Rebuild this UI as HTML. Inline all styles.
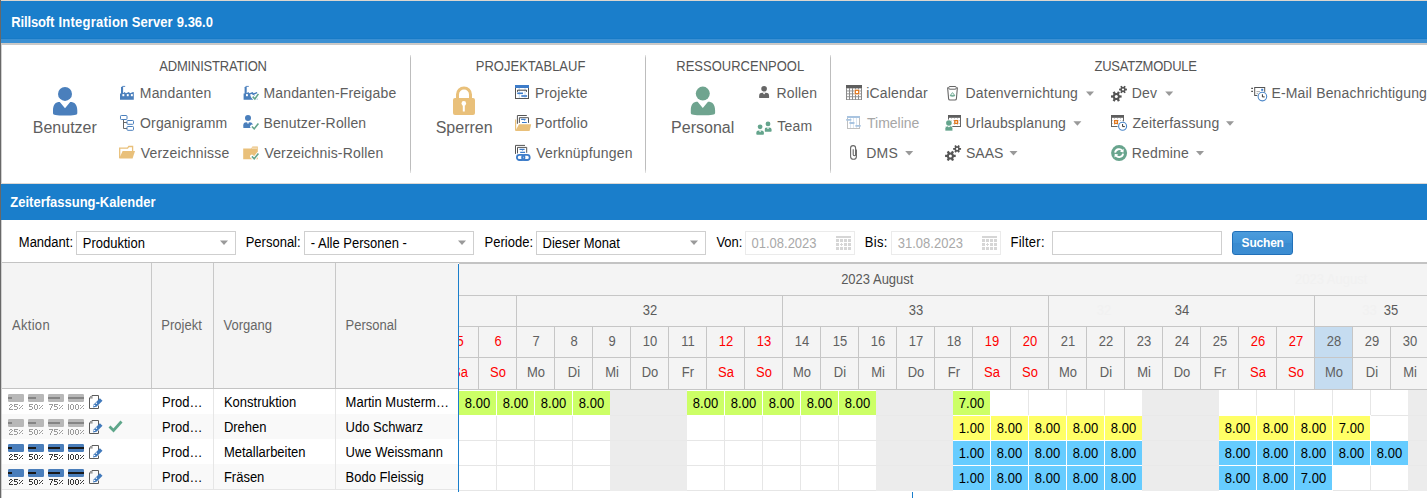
<!DOCTYPE html>
<html><head><meta charset="utf-8"><title>Zeiterfassung-Kalender</title>
<style>
html,body{margin:0;padding:0;}
body{width:1427px;height:498px;overflow:hidden;position:relative;background:#fff;font-family:"Liberation Sans", sans-serif;}
.t{position:absolute;white-space:nowrap;font-family:"Liberation Sans", sans-serif;}
.r{position:absolute;}
svg{position:absolute;left:0;top:0;}
</style></head><body>
<div class="r" style="left:0px;top:0px;width:1427px;height:1px;background:#dcd6cf;"></div>
<div class="r" style="left:0px;top:1px;width:1427px;height:38px;background:#1a7ecb;"></div>
<div class="r" style="left:0px;top:38px;width:1427px;height:1px;background:#177ac6;"></div>
<div class="r" style="left:0px;top:39px;width:1427px;height:4px;background:#3b90d3;"></div>
<div class="r" style="left:0px;top:43px;width:1427px;height:1px;background:#cdc9c5;"></div>
<div class="r" style="left:0px;top:44px;width:1427px;height:1px;background:#c9c9c9;"></div>
<div class="t" style="left:11.30px;top:15.80px;font-size:13px;line-height:13px;color:#ffffff;font-weight:bold;letter-spacing:-0.15px;transform:scaleY(1.06);transform-origin:0 11.00px;">Rillsoft</div>
<div class="t" style="left:58.40px;top:15.80px;font-size:13px;line-height:13px;color:#ffffff;font-weight:bold;letter-spacing:0.25px;transform:scaleY(1.06);transform-origin:0 11.00px;">Integration</div>
<div class="t" style="left:131.80px;top:15.80px;font-size:13px;line-height:13px;color:#ffffff;font-weight:bold;letter-spacing:0.05px;transform:scaleY(1.06);transform-origin:0 11.00px;">Server</div>
<div class="t" style="left:176.80px;top:15.80px;font-size:13px;line-height:13px;color:#ffffff;font-weight:bold;letter-spacing:0px;transform:scaleY(1.06);transform-origin:0 11.00px;">9.36.0</div>
<div class="r" style="left:410px;top:55px;width:1px;height:118px;background:linear-gradient(#e6e6e6, #bdbdbd 3px, #bdbdbd 114px, #e6e6e6);"></div>
<div class="r" style="left:645px;top:55px;width:1px;height:118px;background:linear-gradient(#e6e6e6, #bdbdbd 3px, #bdbdbd 114px, #e6e6e6);"></div>
<div class="r" style="left:830px;top:55px;width:1px;height:118px;background:linear-gradient(#e6e6e6, #bdbdbd 3px, #bdbdbd 114px, #e6e6e6);"></div>
<div class="t" style="left:159.30px;top:59.70px;font-size:13px;line-height:13px;color:#555555;font-weight:normal;letter-spacing:-0.2px;transform:scaleY(1.06);transform-origin:0 11.00px;">ADMINISTRATION</div>
<div class="t" style="left:475.80px;top:59.70px;font-size:13px;line-height:13px;color:#555555;font-weight:normal;;transform:scaleY(1.06);transform-origin:0 11.00px;">PROJEKTABLAUF</div>
<div class="t" style="left:676.30px;top:59.70px;font-size:13px;line-height:13px;color:#555555;font-weight:normal;;transform:scaleY(1.06);transform-origin:0 11.00px;">RESSOURCENPOOL</div>
<div class="t" style="left:1094.50px;top:60.00px;font-size:13px;line-height:13px;color:#555555;font-weight:normal;letter-spacing:-0.25px;transform:scaleY(1.06);transform-origin:0 11.00px;">ZUSATZMODULE</div>
<div class="t" style="left:32.80px;top:119.86px;font-size:16px;line-height:16px;color:#5e5e5e;font-weight:normal;">Benutzer</div>
<div class="t" style="left:139.80px;top:86.45px;font-size:14px;line-height:14px;color:#5e5e5e;font-weight:normal;letter-spacing:0.17px;">Mandanten</div>
<div class="t" style="left:140.00px;top:116.15px;font-size:14px;line-height:14px;color:#5e5e5e;font-weight:normal;letter-spacing:0.17px;">Organigramm</div>
<div class="t" style="left:140.80px;top:145.95px;font-size:14px;line-height:14px;color:#5e5e5e;font-weight:normal;letter-spacing:0.17px;">Verzeichnisse</div>
<div class="t" style="left:263.40px;top:86.45px;font-size:14px;line-height:14px;color:#5e5e5e;font-weight:normal;letter-spacing:0.17px;">Mandanten-Freigabe</div>
<div class="t" style="left:263.40px;top:116.15px;font-size:14px;line-height:14px;color:#5e5e5e;font-weight:normal;letter-spacing:0.17px;">Benutzer-Rollen</div>
<div class="t" style="left:264.40px;top:145.95px;font-size:14px;line-height:14px;color:#5e5e5e;font-weight:normal;letter-spacing:0.17px;">Verzeichnis-Rollen</div>
<div class="t" style="left:435.70px;top:119.86px;font-size:16px;line-height:16px;color:#5e5e5e;font-weight:normal;">Sperren</div>
<div class="t" style="left:535.00px;top:86.45px;font-size:14px;line-height:14px;color:#5e5e5e;font-weight:normal;letter-spacing:0.17px;">Projekte</div>
<div class="t" style="left:535.00px;top:116.15px;font-size:14px;line-height:14px;color:#5e5e5e;font-weight:normal;letter-spacing:0.17px;">Portfolio</div>
<div class="t" style="left:536.20px;top:145.95px;font-size:14px;line-height:14px;color:#5e5e5e;font-weight:normal;letter-spacing:0.17px;">Verknüpfungen</div>
<div class="t" style="left:671.10px;top:119.86px;font-size:16px;line-height:16px;color:#5e5e5e;font-weight:normal;">Personal</div>
<div class="t" style="left:776.50px;top:86.45px;font-size:14px;line-height:14px;color:#5e5e5e;font-weight:normal;letter-spacing:0.17px;">Rollen</div>
<div class="t" style="left:777.30px;top:118.95px;font-size:14px;line-height:14px;color:#5e5e5e;font-weight:normal;letter-spacing:0.17px;">Team</div>
<div class="t" style="left:866.30px;top:86.45px;font-size:14px;line-height:14px;color:#5e5e5e;font-weight:normal;letter-spacing:0.17px;">iCalendar</div>
<div class="t" style="left:867.00px;top:116.15px;font-size:14px;line-height:14px;color:#a6a6a6;font-weight:normal;letter-spacing:0">Timeline</div>
<div class="t" style="left:866.30px;top:145.95px;font-size:14px;line-height:14px;color:#5e5e5e;font-weight:normal;letter-spacing:0.17px;">DMS</div>
<div class="t" style="left:965.60px;top:86.45px;font-size:14px;line-height:14px;color:#5e5e5e;font-weight:normal;letter-spacing:0.17px;">Datenvernichtung</div>
<div class="t" style="left:965.60px;top:116.15px;font-size:14px;line-height:14px;color:#5e5e5e;font-weight:normal;letter-spacing:0.17px;">Urlaubsplanung</div>
<div class="t" style="left:966.00px;top:145.95px;font-size:14px;line-height:14px;color:#5e5e5e;font-weight:normal;letter-spacing:0">SAAS</div>
<div class="t" style="left:1131.70px;top:86.45px;font-size:14px;line-height:14px;color:#5e5e5e;font-weight:normal;letter-spacing:0.17px;">Dev</div>
<div class="t" style="left:1132.40px;top:116.15px;font-size:14px;line-height:14px;color:#5e5e5e;font-weight:normal;letter-spacing:0.17px;">Zeiterfassung</div>
<div class="t" style="left:1131.70px;top:145.95px;font-size:14px;line-height:14px;color:#5e5e5e;font-weight:normal;letter-spacing:0.17px;">Redmine</div>
<div class="t" style="left:1271.40px;top:86.45px;font-size:14px;line-height:14px;color:#5e5e5e;font-weight:normal;letter-spacing:0.17px;">E-Mail Benachrichtigung</div>
<div class="r" style="left:0px;top:183px;width:1427px;height:1px;background:#dcd8d4;"></div>
<div class="r" style="left:0px;top:184px;width:1427px;height:36px;background:#1a7ecb;"></div>
<div class="t" style="left:10.30px;top:195.70px;font-size:13px;line-height:13px;color:#ffffff;font-weight:bold;;transform:scaleY(1.06);transform-origin:0 11.00px;">Zeiterfassung-Kalender</div>
<div class="t" style="left:18.80px;top:236.00px;font-size:13px;line-height:13px;color:#000000;font-weight:normal;;transform:scaleY(1.06);transform-origin:0 11.00px;">Mandant:</div>
<div class="t" style="left:245.70px;top:236.00px;font-size:13px;line-height:13px;color:#000000;font-weight:normal;;transform:scaleY(1.06);transform-origin:0 11.00px;">Personal:</div>
<div class="t" style="left:484.60px;top:236.00px;font-size:13px;line-height:13px;color:#000000;font-weight:normal;;transform:scaleY(1.06);transform-origin:0 11.00px;">Periode:</div>
<div class="t" style="left:716.40px;top:236.00px;font-size:13px;line-height:13px;color:#000000;font-weight:normal;;transform:scaleY(1.06);transform-origin:0 11.00px;">Von:</div>
<div class="t" style="left:864.80px;top:236.00px;font-size:13px;line-height:13px;color:#000000;font-weight:normal;letter-spacing:0.3px;transform:scaleY(1.06);transform-origin:0 11.00px;">Bis:</div>
<div class="t" style="left:1010.50px;top:236.00px;font-size:13px;line-height:13px;color:#000000;font-weight:normal;letter-spacing:0.25px;transform:scaleY(1.06);transform-origin:0 11.00px;">Filter:</div>
<div class="r" style="left:76px;top:231px;width:158px;height:22px;border:1px solid #cfcfcf;background:#fff"></div>
<div class="r" style="left:304px;top:231px;width:168px;height:22px;border:1px solid #cfcfcf;background:#fff"></div>
<div class="r" style="left:536px;top:231px;width:168px;height:22px;border:1px solid #cfcfcf;background:#fff"></div>
<div class="r" style="left:745px;top:231px;width:108px;height:22px;border:1px solid #ebebeb;background:#fff"></div>
<div class="r" style="left:891px;top:231px;width:108px;height:22px;border:1px solid #ebebeb;background:#fff"></div>
<div class="r" style="left:1052px;top:231px;width:168px;height:22px;border:1px solid #cfcfcf;background:#fff"></div>
<div class="t" style="left:82.80px;top:237.10px;font-size:13px;line-height:13px;color:#000;font-weight:normal;;transform:scaleY(1.06);transform-origin:0 11.00px;">Produktion</div>
<div class="t" style="left:310.80px;top:237.10px;font-size:13px;line-height:13px;color:#000;font-weight:normal;;transform:scaleY(1.06);transform-origin:0 11.00px;">- Alle Personen -</div>
<div class="t" style="left:542.60px;top:237.10px;font-size:13px;line-height:13px;color:#000;font-weight:normal;;transform:scaleY(1.06);transform-origin:0 11.00px;">Dieser Monat</div>
<div class="t" style="left:751.50px;top:237.10px;font-size:13px;line-height:13px;color:#a9a9a9;font-weight:normal;;transform:scaleY(1.06);transform-origin:0 11.00px;">01.08.2023</div>
<div class="t" style="left:897.80px;top:237.10px;font-size:13px;line-height:13px;color:#a9a9a9;font-weight:normal;;transform:scaleY(1.06);transform-origin:0 11.00px;">31.08.2023</div>
<div class="r" style="left:1232px;top:231px;width:59px;height:22px;border:1px solid #2170b8;border-radius:3px;background:linear-gradient(#4c9cdc,#3f92d6 50%,#3a8bd0 52%,#3c8dd2)"></div>
<div class="t" style="left:1241.60px;top:236.64px;font-size:12px;line-height:12px;color:#ffffff;font-weight:bold;letter-spacing:-0.2px">Suchen</div>
<div class="r" style="left:1px;top:262px;width:1426px;height:1px;background:#c3c3c3;"></div>
<div class="r" style="left:1px;top:263px;width:457px;height:125px;background:#f4f4f4;"></div>
<div class="r" style="left:1px;top:388px;width:457px;height:1px;background:#c3c3c3;"></div>
<div class="r" style="left:151px;top:263px;width:1px;height:125px;background:#c8c8c8;"></div>
<div class="r" style="left:213px;top:263px;width:1px;height:125px;background:#c8c8c8;"></div>
<div class="r" style="left:335px;top:263px;width:1px;height:125px;background:#c8c8c8;"></div>
<div class="t" style="left:12.00px;top:319.00px;font-size:13px;line-height:13px;color:#666;font-weight:normal;letter-spacing:0.3px;transform:scaleY(1.06);transform-origin:0 11.00px;">Aktion</div>
<div class="t" style="left:161.30px;top:319.00px;font-size:13px;line-height:13px;color:#666;font-weight:normal;;transform:scaleY(1.06);transform-origin:0 11.00px;">Projekt</div>
<div class="t" style="left:223.60px;top:318.80px;font-size:13px;line-height:13px;color:#666;font-weight:normal;;transform:scaleY(1.06);transform-origin:0 11.00px;">Vorgang</div>
<div class="t" style="left:345.60px;top:318.80px;font-size:13px;line-height:13px;color:#666;font-weight:normal;;transform:scaleY(1.06);transform-origin:0 11.00px;">Personal</div>
<div class="r" style="left:459px;top:263px;width:968px;height:1px;background:#c3c3c3;"></div>
<div class="r" style="left:459px;top:264px;width:968px;height:125px;background:#f4f4f4;"></div>
<div class="r" style="left:459px;top:295px;width:968px;height:1px;background:#c6c6c6;"></div>
<div class="r" style="left:459px;top:326px;width:968px;height:1px;background:#c6c6c6;"></div>
<div class="r" style="left:459px;top:357px;width:968px;height:1px;background:#c6c6c6;"></div>
<div class="r" style="left:459px;top:389px;width:968px;height:1px;background:#c6c6c6;"></div>
<div class="r" style="left:516px;top:296px;width:1px;height:93px;background:#c6c6c6;"></div>
<div class="r" style="left:782px;top:296px;width:1px;height:93px;background:#c6c6c6;"></div>
<div class="r" style="left:1048px;top:296px;width:1px;height:93px;background:#c6c6c6;"></div>
<div class="r" style="left:1314px;top:296px;width:1px;height:93px;background:#c6c6c6;"></div>
<div class="r" style="left:478px;top:327px;width:1px;height:62px;background:#c6c6c6;"></div>
<div class="r" style="left:516px;top:327px;width:1px;height:62px;background:#c6c6c6;"></div>
<div class="r" style="left:554px;top:327px;width:1px;height:62px;background:#c6c6c6;"></div>
<div class="r" style="left:592px;top:327px;width:1px;height:62px;background:#c6c6c6;"></div>
<div class="r" style="left:630px;top:327px;width:1px;height:62px;background:#c6c6c6;"></div>
<div class="r" style="left:668px;top:327px;width:1px;height:62px;background:#c6c6c6;"></div>
<div class="r" style="left:706px;top:327px;width:1px;height:62px;background:#c6c6c6;"></div>
<div class="r" style="left:744px;top:327px;width:1px;height:62px;background:#c6c6c6;"></div>
<div class="r" style="left:782px;top:327px;width:1px;height:62px;background:#c6c6c6;"></div>
<div class="r" style="left:820px;top:327px;width:1px;height:62px;background:#c6c6c6;"></div>
<div class="r" style="left:858px;top:327px;width:1px;height:62px;background:#c6c6c6;"></div>
<div class="r" style="left:896px;top:327px;width:1px;height:62px;background:#c6c6c6;"></div>
<div class="r" style="left:934px;top:327px;width:1px;height:62px;background:#c6c6c6;"></div>
<div class="r" style="left:972px;top:327px;width:1px;height:62px;background:#c6c6c6;"></div>
<div class="r" style="left:1010px;top:327px;width:1px;height:62px;background:#c6c6c6;"></div>
<div class="r" style="left:1048px;top:327px;width:1px;height:62px;background:#c6c6c6;"></div>
<div class="r" style="left:1086px;top:327px;width:1px;height:62px;background:#c6c6c6;"></div>
<div class="r" style="left:1124px;top:327px;width:1px;height:62px;background:#c6c6c6;"></div>
<div class="r" style="left:1162px;top:327px;width:1px;height:62px;background:#c6c6c6;"></div>
<div class="r" style="left:1200px;top:327px;width:1px;height:62px;background:#c6c6c6;"></div>
<div class="r" style="left:1238px;top:327px;width:1px;height:62px;background:#c6c6c6;"></div>
<div class="r" style="left:1276px;top:327px;width:1px;height:62px;background:#c6c6c6;"></div>
<div class="r" style="left:1314px;top:327px;width:1px;height:62px;background:#c6c6c6;"></div>
<div class="r" style="left:1352px;top:327px;width:1px;height:62px;background:#c6c6c6;"></div>
<div class="r" style="left:1390px;top:327px;width:1px;height:62px;background:#c6c6c6;"></div>
<div class="r" style="left:1315px;top:327px;width:37px;height:30px;background:#c5dcf0;"></div>
<div class="r" style="left:1315px;top:358px;width:37px;height:31px;background:#c5dcf0;"></div>
<div style="position:absolute;left:459px;top:263px;width:968px;height:127px;overflow:hidden"><div style="position:absolute;left:-459px;top:-263px;width:1427px;height:498px">
<div class="t" style="left:1231.20px;width:200px;text-align:center;top:272.80px;font-size:13px;line-height:13px;color:#f1f1f1;font-weight:normal;transform:scaleY(1.06);transform-origin:0 11.00px">2023 August</div>
<div class="t" style="left:1004.00px;width:200px;text-align:center;top:304.00px;font-size:13px;line-height:13px;color:#f1f1f1;font-weight:normal;transform:scaleY(1.06);transform-origin:0 11.00px">32</div>
<div class="t" style="left:1269.50px;width:200px;text-align:center;top:304.00px;font-size:13px;line-height:13px;color:#f1f1f1;font-weight:normal;transform:scaleY(1.06);transform-origin:0 11.00px">33</div>
<div class="t" style="left:777.30px;width:200px;text-align:center;top:272.80px;font-size:13px;line-height:13px;color:#5a5a5a;font-weight:normal;transform:scaleY(1.06);transform-origin:0 11.00px">2023 August</div>
<div class="t" style="left:550.00px;width:200px;text-align:center;top:304.00px;font-size:13px;line-height:13px;color:#5a5a5a;font-weight:normal;transform:scaleY(1.06);transform-origin:0 11.00px">32</div>
<div class="t" style="left:816.00px;width:200px;text-align:center;top:304.00px;font-size:13px;line-height:13px;color:#5a5a5a;font-weight:normal;transform:scaleY(1.06);transform-origin:0 11.00px">33</div>
<div class="t" style="left:1082.00px;width:200px;text-align:center;top:304.00px;font-size:13px;line-height:13px;color:#5a5a5a;font-weight:normal;transform:scaleY(1.06);transform-origin:0 11.00px">34</div>
<div class="t" style="left:1291.00px;width:200px;text-align:center;top:304.00px;font-size:13px;line-height:13px;color:#5a5a5a;font-weight:normal;transform:scaleY(1.06);transform-origin:0 11.00px">35</div>
<div class="t" style="left:360.00px;width:200px;text-align:center;top:335.20px;font-size:13px;line-height:13px;color:#ff0000;font-weight:normal;transform:scaleY(1.06);transform-origin:0 11.00px">5</div>
<div class="t" style="left:360.00px;width:200px;text-align:center;top:366.00px;font-size:13px;line-height:13px;color:#ff0000;font-weight:normal;transform:scaleY(1.06);transform-origin:0 11.00px">Sa</div>
<div class="t" style="left:398.00px;width:200px;text-align:center;top:335.20px;font-size:13px;line-height:13px;color:#ff0000;font-weight:normal;transform:scaleY(1.06);transform-origin:0 11.00px">6</div>
<div class="t" style="left:398.00px;width:200px;text-align:center;top:366.00px;font-size:13px;line-height:13px;color:#ff0000;font-weight:normal;transform:scaleY(1.06);transform-origin:0 11.00px">So</div>
<div class="t" style="left:436.00px;width:200px;text-align:center;top:335.20px;font-size:13px;line-height:13px;color:#606060;font-weight:normal;transform:scaleY(1.06);transform-origin:0 11.00px">7</div>
<div class="t" style="left:436.00px;width:200px;text-align:center;top:366.00px;font-size:13px;line-height:13px;color:#606060;font-weight:normal;transform:scaleY(1.06);transform-origin:0 11.00px">Mo</div>
<div class="t" style="left:474.00px;width:200px;text-align:center;top:335.20px;font-size:13px;line-height:13px;color:#606060;font-weight:normal;transform:scaleY(1.06);transform-origin:0 11.00px">8</div>
<div class="t" style="left:474.00px;width:200px;text-align:center;top:366.00px;font-size:13px;line-height:13px;color:#606060;font-weight:normal;transform:scaleY(1.06);transform-origin:0 11.00px">Di</div>
<div class="t" style="left:512.00px;width:200px;text-align:center;top:335.20px;font-size:13px;line-height:13px;color:#606060;font-weight:normal;transform:scaleY(1.06);transform-origin:0 11.00px">9</div>
<div class="t" style="left:512.00px;width:200px;text-align:center;top:366.00px;font-size:13px;line-height:13px;color:#606060;font-weight:normal;transform:scaleY(1.06);transform-origin:0 11.00px">Mi</div>
<div class="t" style="left:550.00px;width:200px;text-align:center;top:335.20px;font-size:13px;line-height:13px;color:#606060;font-weight:normal;transform:scaleY(1.06);transform-origin:0 11.00px">10</div>
<div class="t" style="left:550.00px;width:200px;text-align:center;top:366.00px;font-size:13px;line-height:13px;color:#606060;font-weight:normal;transform:scaleY(1.06);transform-origin:0 11.00px">Do</div>
<div class="t" style="left:588.00px;width:200px;text-align:center;top:335.20px;font-size:13px;line-height:13px;color:#606060;font-weight:normal;transform:scaleY(1.06);transform-origin:0 11.00px">11</div>
<div class="t" style="left:588.00px;width:200px;text-align:center;top:366.00px;font-size:13px;line-height:13px;color:#606060;font-weight:normal;transform:scaleY(1.06);transform-origin:0 11.00px">Fr</div>
<div class="t" style="left:626.00px;width:200px;text-align:center;top:335.20px;font-size:13px;line-height:13px;color:#ff0000;font-weight:normal;transform:scaleY(1.06);transform-origin:0 11.00px">12</div>
<div class="t" style="left:626.00px;width:200px;text-align:center;top:366.00px;font-size:13px;line-height:13px;color:#ff0000;font-weight:normal;transform:scaleY(1.06);transform-origin:0 11.00px">Sa</div>
<div class="t" style="left:664.00px;width:200px;text-align:center;top:335.20px;font-size:13px;line-height:13px;color:#ff0000;font-weight:normal;transform:scaleY(1.06);transform-origin:0 11.00px">13</div>
<div class="t" style="left:664.00px;width:200px;text-align:center;top:366.00px;font-size:13px;line-height:13px;color:#ff0000;font-weight:normal;transform:scaleY(1.06);transform-origin:0 11.00px">So</div>
<div class="t" style="left:702.00px;width:200px;text-align:center;top:335.20px;font-size:13px;line-height:13px;color:#606060;font-weight:normal;transform:scaleY(1.06);transform-origin:0 11.00px">14</div>
<div class="t" style="left:702.00px;width:200px;text-align:center;top:366.00px;font-size:13px;line-height:13px;color:#606060;font-weight:normal;transform:scaleY(1.06);transform-origin:0 11.00px">Mo</div>
<div class="t" style="left:740.00px;width:200px;text-align:center;top:335.20px;font-size:13px;line-height:13px;color:#606060;font-weight:normal;transform:scaleY(1.06);transform-origin:0 11.00px">15</div>
<div class="t" style="left:740.00px;width:200px;text-align:center;top:366.00px;font-size:13px;line-height:13px;color:#606060;font-weight:normal;transform:scaleY(1.06);transform-origin:0 11.00px">Di</div>
<div class="t" style="left:778.00px;width:200px;text-align:center;top:335.20px;font-size:13px;line-height:13px;color:#606060;font-weight:normal;transform:scaleY(1.06);transform-origin:0 11.00px">16</div>
<div class="t" style="left:778.00px;width:200px;text-align:center;top:366.00px;font-size:13px;line-height:13px;color:#606060;font-weight:normal;transform:scaleY(1.06);transform-origin:0 11.00px">Mi</div>
<div class="t" style="left:816.00px;width:200px;text-align:center;top:335.20px;font-size:13px;line-height:13px;color:#606060;font-weight:normal;transform:scaleY(1.06);transform-origin:0 11.00px">17</div>
<div class="t" style="left:816.00px;width:200px;text-align:center;top:366.00px;font-size:13px;line-height:13px;color:#606060;font-weight:normal;transform:scaleY(1.06);transform-origin:0 11.00px">Do</div>
<div class="t" style="left:854.00px;width:200px;text-align:center;top:335.20px;font-size:13px;line-height:13px;color:#606060;font-weight:normal;transform:scaleY(1.06);transform-origin:0 11.00px">18</div>
<div class="t" style="left:854.00px;width:200px;text-align:center;top:366.00px;font-size:13px;line-height:13px;color:#606060;font-weight:normal;transform:scaleY(1.06);transform-origin:0 11.00px">Fr</div>
<div class="t" style="left:892.00px;width:200px;text-align:center;top:335.20px;font-size:13px;line-height:13px;color:#ff0000;font-weight:normal;transform:scaleY(1.06);transform-origin:0 11.00px">19</div>
<div class="t" style="left:892.00px;width:200px;text-align:center;top:366.00px;font-size:13px;line-height:13px;color:#ff0000;font-weight:normal;transform:scaleY(1.06);transform-origin:0 11.00px">Sa</div>
<div class="t" style="left:930.00px;width:200px;text-align:center;top:335.20px;font-size:13px;line-height:13px;color:#ff0000;font-weight:normal;transform:scaleY(1.06);transform-origin:0 11.00px">20</div>
<div class="t" style="left:930.00px;width:200px;text-align:center;top:366.00px;font-size:13px;line-height:13px;color:#ff0000;font-weight:normal;transform:scaleY(1.06);transform-origin:0 11.00px">So</div>
<div class="t" style="left:968.00px;width:200px;text-align:center;top:335.20px;font-size:13px;line-height:13px;color:#606060;font-weight:normal;transform:scaleY(1.06);transform-origin:0 11.00px">21</div>
<div class="t" style="left:968.00px;width:200px;text-align:center;top:366.00px;font-size:13px;line-height:13px;color:#606060;font-weight:normal;transform:scaleY(1.06);transform-origin:0 11.00px">Mo</div>
<div class="t" style="left:1006.00px;width:200px;text-align:center;top:335.20px;font-size:13px;line-height:13px;color:#606060;font-weight:normal;transform:scaleY(1.06);transform-origin:0 11.00px">22</div>
<div class="t" style="left:1006.00px;width:200px;text-align:center;top:366.00px;font-size:13px;line-height:13px;color:#606060;font-weight:normal;transform:scaleY(1.06);transform-origin:0 11.00px">Di</div>
<div class="t" style="left:1044.00px;width:200px;text-align:center;top:335.20px;font-size:13px;line-height:13px;color:#606060;font-weight:normal;transform:scaleY(1.06);transform-origin:0 11.00px">23</div>
<div class="t" style="left:1044.00px;width:200px;text-align:center;top:366.00px;font-size:13px;line-height:13px;color:#606060;font-weight:normal;transform:scaleY(1.06);transform-origin:0 11.00px">Mi</div>
<div class="t" style="left:1082.00px;width:200px;text-align:center;top:335.20px;font-size:13px;line-height:13px;color:#606060;font-weight:normal;transform:scaleY(1.06);transform-origin:0 11.00px">24</div>
<div class="t" style="left:1082.00px;width:200px;text-align:center;top:366.00px;font-size:13px;line-height:13px;color:#606060;font-weight:normal;transform:scaleY(1.06);transform-origin:0 11.00px">Do</div>
<div class="t" style="left:1120.00px;width:200px;text-align:center;top:335.20px;font-size:13px;line-height:13px;color:#606060;font-weight:normal;transform:scaleY(1.06);transform-origin:0 11.00px">25</div>
<div class="t" style="left:1120.00px;width:200px;text-align:center;top:366.00px;font-size:13px;line-height:13px;color:#606060;font-weight:normal;transform:scaleY(1.06);transform-origin:0 11.00px">Fr</div>
<div class="t" style="left:1158.00px;width:200px;text-align:center;top:335.20px;font-size:13px;line-height:13px;color:#ff0000;font-weight:normal;transform:scaleY(1.06);transform-origin:0 11.00px">26</div>
<div class="t" style="left:1158.00px;width:200px;text-align:center;top:366.00px;font-size:13px;line-height:13px;color:#ff0000;font-weight:normal;transform:scaleY(1.06);transform-origin:0 11.00px">Sa</div>
<div class="t" style="left:1196.00px;width:200px;text-align:center;top:335.20px;font-size:13px;line-height:13px;color:#ff0000;font-weight:normal;transform:scaleY(1.06);transform-origin:0 11.00px">27</div>
<div class="t" style="left:1196.00px;width:200px;text-align:center;top:366.00px;font-size:13px;line-height:13px;color:#ff0000;font-weight:normal;transform:scaleY(1.06);transform-origin:0 11.00px">So</div>
<div class="t" style="left:1234.00px;width:200px;text-align:center;top:335.20px;font-size:13px;line-height:13px;color:#606060;font-weight:normal;transform:scaleY(1.06);transform-origin:0 11.00px">28</div>
<div class="t" style="left:1234.00px;width:200px;text-align:center;top:366.00px;font-size:13px;line-height:13px;color:#606060;font-weight:normal;transform:scaleY(1.06);transform-origin:0 11.00px">Mo</div>
<div class="t" style="left:1272.00px;width:200px;text-align:center;top:335.20px;font-size:13px;line-height:13px;color:#606060;font-weight:normal;transform:scaleY(1.06);transform-origin:0 11.00px">29</div>
<div class="t" style="left:1272.00px;width:200px;text-align:center;top:366.00px;font-size:13px;line-height:13px;color:#606060;font-weight:normal;transform:scaleY(1.06);transform-origin:0 11.00px">Di</div>
<div class="t" style="left:1310.00px;width:200px;text-align:center;top:335.20px;font-size:13px;line-height:13px;color:#606060;font-weight:normal;transform:scaleY(1.06);transform-origin:0 11.00px">30</div>
<div class="t" style="left:1310.00px;width:200px;text-align:center;top:366.00px;font-size:13px;line-height:13px;color:#606060;font-weight:normal;transform:scaleY(1.06);transform-origin:0 11.00px">Mi</div>
</div></div>
<div class="r" style="left:1px;top:389px;width:457px;height:25px;background:#ffffff;"></div>
<div class="r" style="left:1px;top:414px;width:457px;height:1px;background:#e6e6e6;"></div>
<div class="r" style="left:1px;top:414px;width:457px;height:25px;background:#f9f9f9;"></div>
<div class="r" style="left:1px;top:439px;width:457px;height:1px;background:#e6e6e6;"></div>
<div class="r" style="left:1px;top:439px;width:457px;height:25px;background:#ffffff;"></div>
<div class="r" style="left:1px;top:464px;width:457px;height:1px;background:#e6e6e6;"></div>
<div class="r" style="left:1px;top:464px;width:457px;height:25px;background:#f9f9f9;"></div>
<div class="r" style="left:1px;top:489px;width:457px;height:1px;background:#e6e6e6;"></div>
<div class="r" style="left:151px;top:389px;width:1px;height:100px;background:#e6e6e6;"></div>
<div class="r" style="left:213px;top:389px;width:1px;height:100px;background:#e6e6e6;"></div>
<div class="r" style="left:335px;top:389px;width:1px;height:100px;background:#e6e6e6;"></div>
<div class="t" style="left:162.00px;top:395.60px;font-size:13px;line-height:13px;color:#000;font-weight:normal;;transform:scaleY(1.06);transform-origin:0 11.00px;">Prod…</div>
<div class="t" style="left:223.90px;top:395.60px;font-size:13px;line-height:13px;color:#000;font-weight:normal;;transform:scaleY(1.06);transform-origin:0 11.00px;">Konstruktion</div>
<div class="t" style="left:345.60px;top:395.60px;font-size:13px;line-height:13px;color:#000;font-weight:normal;;transform:scaleY(1.06);transform-origin:0 11.00px;">Martin Musterm…</div>
<div class="t" style="left:162.00px;top:420.60px;font-size:13px;line-height:13px;color:#000;font-weight:normal;;transform:scaleY(1.06);transform-origin:0 11.00px;">Prod…</div>
<div class="t" style="left:223.90px;top:420.60px;font-size:13px;line-height:13px;color:#000;font-weight:normal;;transform:scaleY(1.06);transform-origin:0 11.00px;">Drehen</div>
<div class="t" style="left:345.60px;top:420.60px;font-size:13px;line-height:13px;color:#000;font-weight:normal;;transform:scaleY(1.06);transform-origin:0 11.00px;">Udo Schwarz</div>
<div class="t" style="left:162.00px;top:445.60px;font-size:13px;line-height:13px;color:#000;font-weight:normal;;transform:scaleY(1.06);transform-origin:0 11.00px;">Prod…</div>
<div class="t" style="left:223.90px;top:445.60px;font-size:13px;line-height:13px;color:#000;font-weight:normal;;transform:scaleY(1.06);transform-origin:0 11.00px;">Metallarbeiten</div>
<div class="t" style="left:345.60px;top:445.60px;font-size:13px;line-height:13px;color:#000;font-weight:normal;;transform:scaleY(1.06);transform-origin:0 11.00px;">Uwe Weissmann</div>
<div class="t" style="left:162.00px;top:470.60px;font-size:13px;line-height:13px;color:#000;font-weight:normal;;transform:scaleY(1.06);transform-origin:0 11.00px;">Prod…</div>
<div class="t" style="left:223.90px;top:470.60px;font-size:13px;line-height:13px;color:#000;font-weight:normal;;transform:scaleY(1.06);transform-origin:0 11.00px;">Fräsen</div>
<div class="t" style="left:345.60px;top:470.60px;font-size:13px;line-height:13px;color:#000;font-weight:normal;;transform:scaleY(1.06);transform-origin:0 11.00px;">Bodo Fleissig</div>
<div class="r" style="left:459px;top:390px;width:968px;height:101px;background:#ffffff;"></div>
<div class="r" style="left:459px;top:390px;width:968px;height:1px;background:#ffffff;"></div>
<div class="r" style="left:459px;top:415px;width:968px;height:1px;background:#e6e6e6;"></div>
<div class="r" style="left:459px;top:440px;width:968px;height:1px;background:#e6e6e6;"></div>
<div class="r" style="left:459px;top:465px;width:968px;height:1px;background:#e6e6e6;"></div>
<div class="r" style="left:459px;top:490px;width:968px;height:1px;background:#e6e6e6;"></div>
<div class="r" style="left:496px;top:390px;width:1px;height:100px;background:#e6e6e6;"></div>
<div class="r" style="left:534px;top:390px;width:1px;height:100px;background:#e6e6e6;"></div>
<div class="r" style="left:572px;top:390px;width:1px;height:100px;background:#e6e6e6;"></div>
<div class="r" style="left:610px;top:390px;width:1px;height:100px;background:#e6e6e6;"></div>
<div class="r" style="left:648px;top:390px;width:1px;height:100px;background:#e6e6e6;"></div>
<div class="r" style="left:686px;top:390px;width:1px;height:100px;background:#e6e6e6;"></div>
<div class="r" style="left:724px;top:390px;width:1px;height:100px;background:#e6e6e6;"></div>
<div class="r" style="left:762px;top:390px;width:1px;height:100px;background:#e6e6e6;"></div>
<div class="r" style="left:800px;top:390px;width:1px;height:100px;background:#e6e6e6;"></div>
<div class="r" style="left:838px;top:390px;width:1px;height:100px;background:#e6e6e6;"></div>
<div class="r" style="left:876px;top:390px;width:1px;height:100px;background:#e6e6e6;"></div>
<div class="r" style="left:914px;top:390px;width:1px;height:100px;background:#e6e6e6;"></div>
<div class="r" style="left:952px;top:390px;width:1px;height:100px;background:#e6e6e6;"></div>
<div class="r" style="left:990px;top:390px;width:1px;height:100px;background:#e6e6e6;"></div>
<div class="r" style="left:1028px;top:390px;width:1px;height:100px;background:#e6e6e6;"></div>
<div class="r" style="left:1066px;top:390px;width:1px;height:100px;background:#e6e6e6;"></div>
<div class="r" style="left:1104px;top:390px;width:1px;height:100px;background:#e6e6e6;"></div>
<div class="r" style="left:1142px;top:390px;width:1px;height:100px;background:#e6e6e6;"></div>
<div class="r" style="left:1180px;top:390px;width:1px;height:100px;background:#e6e6e6;"></div>
<div class="r" style="left:1218px;top:390px;width:1px;height:100px;background:#e6e6e6;"></div>
<div class="r" style="left:1256px;top:390px;width:1px;height:100px;background:#e6e6e6;"></div>
<div class="r" style="left:1294px;top:390px;width:1px;height:100px;background:#e6e6e6;"></div>
<div class="r" style="left:1332px;top:390px;width:1px;height:100px;background:#e6e6e6;"></div>
<div class="r" style="left:1370px;top:390px;width:1px;height:100px;background:#e6e6e6;"></div>
<div class="r" style="left:1408px;top:390px;width:1px;height:100px;background:#e6e6e6;"></div>
<div class="r" style="left:458px;top:390px;width:39px;height:26px;background:#ffffff;"></div>
<div class="r" style="left:496px;top:390px;width:39px;height:26px;background:#ffffff;"></div>
<div class="r" style="left:534px;top:390px;width:39px;height:26px;background:#ffffff;"></div>
<div class="r" style="left:572px;top:390px;width:39px;height:26px;background:#ffffff;"></div>
<div class="r" style="left:686px;top:390px;width:39px;height:26px;background:#ffffff;"></div>
<div class="r" style="left:724px;top:390px;width:39px;height:26px;background:#ffffff;"></div>
<div class="r" style="left:762px;top:390px;width:39px;height:26px;background:#ffffff;"></div>
<div class="r" style="left:800px;top:390px;width:39px;height:26px;background:#ffffff;"></div>
<div class="r" style="left:838px;top:390px;width:39px;height:26px;background:#ffffff;"></div>
<div class="r" style="left:952px;top:390px;width:39px;height:26px;background:#ffffff;"></div>
<div class="r" style="left:952px;top:415px;width:39px;height:26px;background:#ffffff;"></div>
<div class="r" style="left:990px;top:415px;width:39px;height:26px;background:#ffffff;"></div>
<div class="r" style="left:1028px;top:415px;width:39px;height:26px;background:#ffffff;"></div>
<div class="r" style="left:1066px;top:415px;width:39px;height:26px;background:#ffffff;"></div>
<div class="r" style="left:1104px;top:415px;width:39px;height:26px;background:#ffffff;"></div>
<div class="r" style="left:1218px;top:415px;width:39px;height:26px;background:#ffffff;"></div>
<div class="r" style="left:1256px;top:415px;width:39px;height:26px;background:#ffffff;"></div>
<div class="r" style="left:1294px;top:415px;width:39px;height:26px;background:#ffffff;"></div>
<div class="r" style="left:1332px;top:415px;width:39px;height:26px;background:#ffffff;"></div>
<div class="r" style="left:952px;top:440px;width:39px;height:26px;background:#ffffff;"></div>
<div class="r" style="left:990px;top:440px;width:39px;height:26px;background:#ffffff;"></div>
<div class="r" style="left:1028px;top:440px;width:39px;height:26px;background:#ffffff;"></div>
<div class="r" style="left:1066px;top:440px;width:39px;height:26px;background:#ffffff;"></div>
<div class="r" style="left:1104px;top:440px;width:39px;height:26px;background:#ffffff;"></div>
<div class="r" style="left:1218px;top:440px;width:39px;height:26px;background:#ffffff;"></div>
<div class="r" style="left:1256px;top:440px;width:39px;height:26px;background:#ffffff;"></div>
<div class="r" style="left:1294px;top:440px;width:39px;height:26px;background:#ffffff;"></div>
<div class="r" style="left:1332px;top:440px;width:39px;height:26px;background:#ffffff;"></div>
<div class="r" style="left:1370px;top:440px;width:39px;height:26px;background:#ffffff;"></div>
<div class="r" style="left:952px;top:465px;width:39px;height:26px;background:#ffffff;"></div>
<div class="r" style="left:990px;top:465px;width:39px;height:26px;background:#ffffff;"></div>
<div class="r" style="left:1028px;top:465px;width:39px;height:26px;background:#ffffff;"></div>
<div class="r" style="left:1066px;top:465px;width:39px;height:26px;background:#ffffff;"></div>
<div class="r" style="left:1104px;top:465px;width:39px;height:26px;background:#ffffff;"></div>
<div class="r" style="left:1218px;top:465px;width:39px;height:26px;background:#ffffff;"></div>
<div class="r" style="left:1256px;top:465px;width:39px;height:26px;background:#ffffff;"></div>
<div class="r" style="left:1294px;top:465px;width:39px;height:26px;background:#ffffff;"></div>
<div class="r" style="left:610px;top:390px;width:77px;height:101px;background:#ececec;"></div>
<div class="r" style="left:610px;top:415px;width:77px;height:1px;background:#e9e9e9;"></div>
<div class="r" style="left:610px;top:440px;width:77px;height:1px;background:#e9e9e9;"></div>
<div class="r" style="left:610px;top:465px;width:77px;height:1px;background:#e9e9e9;"></div>
<div class="r" style="left:876px;top:390px;width:77px;height:101px;background:#ececec;"></div>
<div class="r" style="left:876px;top:415px;width:77px;height:1px;background:#e9e9e9;"></div>
<div class="r" style="left:876px;top:440px;width:77px;height:1px;background:#e9e9e9;"></div>
<div class="r" style="left:876px;top:465px;width:77px;height:1px;background:#e9e9e9;"></div>
<div class="r" style="left:1142px;top:390px;width:77px;height:101px;background:#ececec;"></div>
<div class="r" style="left:1142px;top:415px;width:77px;height:1px;background:#e9e9e9;"></div>
<div class="r" style="left:1142px;top:440px;width:77px;height:1px;background:#e9e9e9;"></div>
<div class="r" style="left:1142px;top:465px;width:77px;height:1px;background:#e9e9e9;"></div>
<div class="r" style="left:1408px;top:390px;width:77px;height:101px;background:#ececec;"></div>
<div class="r" style="left:1408px;top:415px;width:77px;height:1px;background:#e9e9e9;"></div>
<div class="r" style="left:1408px;top:440px;width:77px;height:1px;background:#e9e9e9;"></div>
<div class="r" style="left:1408px;top:465px;width:77px;height:1px;background:#e9e9e9;"></div>
<div class="r" style="left:459px;top:391px;width:37px;height:24px;background:#ccff66;"></div>
<div class="t" style="left:459.00px;width:37px;text-align:center;top:397.00px;font-size:13px;line-height:13px;color:#000;font-weight:normal;transform:scaleY(1.06);transform-origin:0 11.00px">8.00</div>
<div class="r" style="left:497px;top:391px;width:37px;height:24px;background:#ccff66;"></div>
<div class="t" style="left:497.00px;width:37px;text-align:center;top:397.00px;font-size:13px;line-height:13px;color:#000;font-weight:normal;transform:scaleY(1.06);transform-origin:0 11.00px">8.00</div>
<div class="r" style="left:535px;top:391px;width:37px;height:24px;background:#ccff66;"></div>
<div class="t" style="left:535.00px;width:37px;text-align:center;top:397.00px;font-size:13px;line-height:13px;color:#000;font-weight:normal;transform:scaleY(1.06);transform-origin:0 11.00px">8.00</div>
<div class="r" style="left:573px;top:391px;width:37px;height:24px;background:#ccff66;"></div>
<div class="t" style="left:573.00px;width:37px;text-align:center;top:397.00px;font-size:13px;line-height:13px;color:#000;font-weight:normal;transform:scaleY(1.06);transform-origin:0 11.00px">8.00</div>
<div class="r" style="left:687px;top:391px;width:37px;height:24px;background:#ccff66;"></div>
<div class="t" style="left:687.00px;width:37px;text-align:center;top:397.00px;font-size:13px;line-height:13px;color:#000;font-weight:normal;transform:scaleY(1.06);transform-origin:0 11.00px">8.00</div>
<div class="r" style="left:725px;top:391px;width:37px;height:24px;background:#ccff66;"></div>
<div class="t" style="left:725.00px;width:37px;text-align:center;top:397.00px;font-size:13px;line-height:13px;color:#000;font-weight:normal;transform:scaleY(1.06);transform-origin:0 11.00px">8.00</div>
<div class="r" style="left:763px;top:391px;width:37px;height:24px;background:#ccff66;"></div>
<div class="t" style="left:763.00px;width:37px;text-align:center;top:397.00px;font-size:13px;line-height:13px;color:#000;font-weight:normal;transform:scaleY(1.06);transform-origin:0 11.00px">8.00</div>
<div class="r" style="left:801px;top:391px;width:37px;height:24px;background:#ccff66;"></div>
<div class="t" style="left:801.00px;width:37px;text-align:center;top:397.00px;font-size:13px;line-height:13px;color:#000;font-weight:normal;transform:scaleY(1.06);transform-origin:0 11.00px">8.00</div>
<div class="r" style="left:839px;top:391px;width:37px;height:24px;background:#ccff66;"></div>
<div class="t" style="left:839.00px;width:37px;text-align:center;top:397.00px;font-size:13px;line-height:13px;color:#000;font-weight:normal;transform:scaleY(1.06);transform-origin:0 11.00px">8.00</div>
<div class="r" style="left:953px;top:391px;width:37px;height:24px;background:#ccff66;"></div>
<div class="t" style="left:953.00px;width:37px;text-align:center;top:397.00px;font-size:13px;line-height:13px;color:#000;font-weight:normal;transform:scaleY(1.06);transform-origin:0 11.00px">7.00</div>
<div class="r" style="left:953px;top:416px;width:37px;height:24px;background:#ffff66;"></div>
<div class="t" style="left:953.00px;width:37px;text-align:center;top:422.00px;font-size:13px;line-height:13px;color:#000;font-weight:normal;transform:scaleY(1.06);transform-origin:0 11.00px">1.00</div>
<div class="r" style="left:991px;top:416px;width:37px;height:24px;background:#ffff66;"></div>
<div class="t" style="left:991.00px;width:37px;text-align:center;top:422.00px;font-size:13px;line-height:13px;color:#000;font-weight:normal;transform:scaleY(1.06);transform-origin:0 11.00px">8.00</div>
<div class="r" style="left:1029px;top:416px;width:37px;height:24px;background:#ffff66;"></div>
<div class="t" style="left:1029.00px;width:37px;text-align:center;top:422.00px;font-size:13px;line-height:13px;color:#000;font-weight:normal;transform:scaleY(1.06);transform-origin:0 11.00px">8.00</div>
<div class="r" style="left:1067px;top:416px;width:37px;height:24px;background:#ffff66;"></div>
<div class="t" style="left:1067.00px;width:37px;text-align:center;top:422.00px;font-size:13px;line-height:13px;color:#000;font-weight:normal;transform:scaleY(1.06);transform-origin:0 11.00px">8.00</div>
<div class="r" style="left:1105px;top:416px;width:37px;height:24px;background:#ffff66;"></div>
<div class="t" style="left:1105.00px;width:37px;text-align:center;top:422.00px;font-size:13px;line-height:13px;color:#000;font-weight:normal;transform:scaleY(1.06);transform-origin:0 11.00px">8.00</div>
<div class="r" style="left:1219px;top:416px;width:37px;height:24px;background:#ffff66;"></div>
<div class="t" style="left:1219.00px;width:37px;text-align:center;top:422.00px;font-size:13px;line-height:13px;color:#000;font-weight:normal;transform:scaleY(1.06);transform-origin:0 11.00px">8.00</div>
<div class="r" style="left:1257px;top:416px;width:37px;height:24px;background:#ffff66;"></div>
<div class="t" style="left:1257.00px;width:37px;text-align:center;top:422.00px;font-size:13px;line-height:13px;color:#000;font-weight:normal;transform:scaleY(1.06);transform-origin:0 11.00px">8.00</div>
<div class="r" style="left:1295px;top:416px;width:37px;height:24px;background:#ffff66;"></div>
<div class="t" style="left:1295.00px;width:37px;text-align:center;top:422.00px;font-size:13px;line-height:13px;color:#000;font-weight:normal;transform:scaleY(1.06);transform-origin:0 11.00px">8.00</div>
<div class="r" style="left:1333px;top:416px;width:37px;height:24px;background:#ffff66;"></div>
<div class="t" style="left:1333.00px;width:37px;text-align:center;top:422.00px;font-size:13px;line-height:13px;color:#000;font-weight:normal;transform:scaleY(1.06);transform-origin:0 11.00px">7.00</div>
<div class="r" style="left:953px;top:441px;width:37px;height:24px;background:#66ccff;"></div>
<div class="t" style="left:953.00px;width:37px;text-align:center;top:447.00px;font-size:13px;line-height:13px;color:#000;font-weight:normal;transform:scaleY(1.06);transform-origin:0 11.00px">1.00</div>
<div class="r" style="left:991px;top:441px;width:37px;height:24px;background:#66ccff;"></div>
<div class="t" style="left:991.00px;width:37px;text-align:center;top:447.00px;font-size:13px;line-height:13px;color:#000;font-weight:normal;transform:scaleY(1.06);transform-origin:0 11.00px">8.00</div>
<div class="r" style="left:1029px;top:441px;width:37px;height:24px;background:#66ccff;"></div>
<div class="t" style="left:1029.00px;width:37px;text-align:center;top:447.00px;font-size:13px;line-height:13px;color:#000;font-weight:normal;transform:scaleY(1.06);transform-origin:0 11.00px">8.00</div>
<div class="r" style="left:1067px;top:441px;width:37px;height:24px;background:#66ccff;"></div>
<div class="t" style="left:1067.00px;width:37px;text-align:center;top:447.00px;font-size:13px;line-height:13px;color:#000;font-weight:normal;transform:scaleY(1.06);transform-origin:0 11.00px">8.00</div>
<div class="r" style="left:1105px;top:441px;width:37px;height:24px;background:#66ccff;"></div>
<div class="t" style="left:1105.00px;width:37px;text-align:center;top:447.00px;font-size:13px;line-height:13px;color:#000;font-weight:normal;transform:scaleY(1.06);transform-origin:0 11.00px">8.00</div>
<div class="r" style="left:1219px;top:441px;width:37px;height:24px;background:#66ccff;"></div>
<div class="t" style="left:1219.00px;width:37px;text-align:center;top:447.00px;font-size:13px;line-height:13px;color:#000;font-weight:normal;transform:scaleY(1.06);transform-origin:0 11.00px">8.00</div>
<div class="r" style="left:1257px;top:441px;width:37px;height:24px;background:#66ccff;"></div>
<div class="t" style="left:1257.00px;width:37px;text-align:center;top:447.00px;font-size:13px;line-height:13px;color:#000;font-weight:normal;transform:scaleY(1.06);transform-origin:0 11.00px">8.00</div>
<div class="r" style="left:1295px;top:441px;width:37px;height:24px;background:#66ccff;"></div>
<div class="t" style="left:1295.00px;width:37px;text-align:center;top:447.00px;font-size:13px;line-height:13px;color:#000;font-weight:normal;transform:scaleY(1.06);transform-origin:0 11.00px">8.00</div>
<div class="r" style="left:1333px;top:441px;width:37px;height:24px;background:#66ccff;"></div>
<div class="t" style="left:1333.00px;width:37px;text-align:center;top:447.00px;font-size:13px;line-height:13px;color:#000;font-weight:normal;transform:scaleY(1.06);transform-origin:0 11.00px">8.00</div>
<div class="r" style="left:1371px;top:441px;width:37px;height:24px;background:#66ccff;"></div>
<div class="t" style="left:1371.00px;width:37px;text-align:center;top:447.00px;font-size:13px;line-height:13px;color:#000;font-weight:normal;transform:scaleY(1.06);transform-origin:0 11.00px">8.00</div>
<div class="r" style="left:953px;top:466px;width:37px;height:24px;background:#66ccff;"></div>
<div class="t" style="left:953.00px;width:37px;text-align:center;top:472.00px;font-size:13px;line-height:13px;color:#000;font-weight:normal;transform:scaleY(1.06);transform-origin:0 11.00px">1.00</div>
<div class="r" style="left:991px;top:466px;width:37px;height:24px;background:#66ccff;"></div>
<div class="t" style="left:991.00px;width:37px;text-align:center;top:472.00px;font-size:13px;line-height:13px;color:#000;font-weight:normal;transform:scaleY(1.06);transform-origin:0 11.00px">8.00</div>
<div class="r" style="left:1029px;top:466px;width:37px;height:24px;background:#66ccff;"></div>
<div class="t" style="left:1029.00px;width:37px;text-align:center;top:472.00px;font-size:13px;line-height:13px;color:#000;font-weight:normal;transform:scaleY(1.06);transform-origin:0 11.00px">8.00</div>
<div class="r" style="left:1067px;top:466px;width:37px;height:24px;background:#66ccff;"></div>
<div class="t" style="left:1067.00px;width:37px;text-align:center;top:472.00px;font-size:13px;line-height:13px;color:#000;font-weight:normal;transform:scaleY(1.06);transform-origin:0 11.00px">8.00</div>
<div class="r" style="left:1105px;top:466px;width:37px;height:24px;background:#66ccff;"></div>
<div class="t" style="left:1105.00px;width:37px;text-align:center;top:472.00px;font-size:13px;line-height:13px;color:#000;font-weight:normal;transform:scaleY(1.06);transform-origin:0 11.00px">8.00</div>
<div class="r" style="left:1219px;top:466px;width:37px;height:24px;background:#66ccff;"></div>
<div class="t" style="left:1219.00px;width:37px;text-align:center;top:472.00px;font-size:13px;line-height:13px;color:#000;font-weight:normal;transform:scaleY(1.06);transform-origin:0 11.00px">8.00</div>
<div class="r" style="left:1257px;top:466px;width:37px;height:24px;background:#66ccff;"></div>
<div class="t" style="left:1257.00px;width:37px;text-align:center;top:472.00px;font-size:13px;line-height:13px;color:#000;font-weight:normal;transform:scaleY(1.06);transform-origin:0 11.00px">8.00</div>
<div class="r" style="left:1295px;top:466px;width:37px;height:24px;background:#66ccff;"></div>
<div class="t" style="left:1295.00px;width:37px;text-align:center;top:472.00px;font-size:13px;line-height:13px;color:#000;font-weight:normal;transform:scaleY(1.06);transform-origin:0 11.00px">7.00</div>
<div class="r" style="left:458px;top:264px;width:1px;height:228px;background:#1a7ecb;"></div>
<div class="r" style="left:912px;top:492px;width:1px;height:6px;background:#1a7ecb;"></div>
<div class="r" style="left:0px;top:0px;width:1px;height:498px;background:#686868;"></div>
<div class="r" style="left:1px;top:45px;width:1px;height:138px;background:#d0d0d0;"></div>
<div class="r" style="left:1px;top:220px;width:1px;height:278px;background:#d0d0d0;"></div>
<svg width="1427" height="498" viewBox="0 0 1427 498">
<path d="M905.2,151.0 h8 l-4,4.5 z" fill="#999"/>
<path d="M1086,91.5 h8 l-4,4.5 z" fill="#999"/>
<path d="M1073.4,121.2 h8 l-4,4.5 z" fill="#999"/>
<path d="M1009.5,151.0 h8 l-4,4.5 z" fill="#999"/>
<path d="M1165.2,91.5 h8 l-4,4.5 z" fill="#999"/>
<path d="M1226,121.2 h8 l-4,4.5 z" fill="#999"/>
<path d="M1196,151.0 h8 l-4,4.5 z" fill="#999"/>
<path d="M220,240.5 h8 l-4,4.5 z" fill="#9a9a9a"/>
<path d="M458,240.5 h8 l-4,4.5 z" fill="#9a9a9a"/>
<path d="M690,240.5 h8 l-4,4.5 z" fill="#9a9a9a"/>
<g fill="#d6d6d6"><rect x="836" y="236" width="15" height="2"/><rect x="836" y="239" width="3" height="3"/><rect x="840" y="239" width="3" height="3"/><rect x="844" y="239" width="3" height="3"/><rect x="848" y="239" width="3" height="3"/><rect x="836" y="243" width="3" height="3"/><path d="M841,243 h1 v1 h1 v1 h-1 v1 h-1 v-1 h-1 v-1 h1 z"/><rect x="844" y="243" width="3" height="3"/><rect x="848" y="243" width="3" height="3"/><rect x="836" y="247" width="3" height="3"/><rect x="840" y="247" width="3" height="3"/><rect x="844" y="247" width="3" height="3"/><rect x="848" y="247" width="3" height="3"/></g>
<g fill="#d6d6d6"><rect x="982" y="236" width="15" height="2"/><rect x="982" y="239" width="3" height="3"/><rect x="986" y="239" width="3" height="3"/><rect x="990" y="239" width="3" height="3"/><rect x="994" y="239" width="3" height="3"/><rect x="982" y="243" width="3" height="3"/><path d="M987,243 h1 v1 h1 v1 h-1 v1 h-1 v-1 h-1 v-1 h1 z"/><rect x="990" y="243" width="3" height="3"/><rect x="994" y="243" width="3" height="3"/><rect x="982" y="247" width="3" height="3"/><rect x="986" y="247" width="3" height="3"/><rect x="990" y="247" width="3" height="3"/><rect x="994" y="247" width="3" height="3"/></g>
<rect x="8" y="394" width="16" height="8" rx="1.2" fill="#b8b8b8"/>
<rect x="8" y="397" width="4" height="2" fill="#858585"/>
<g fill="#9c9c9c" shape-rendering="crispEdges"><rect x="10" y="404" width="2" height="1"/><rect x="9" y="405" width="1" height="1"/><rect x="12" y="405" width="1" height="1"/><rect x="11" y="406" width="1" height="1"/><rect x="10" y="407" width="1" height="1"/><rect x="9" y="408" width="1" height="1"/><rect x="9" y="409" width="4" height="1"/><rect x="14" y="404" width="4" height="1"/><rect x="14" y="405" width="1" height="1"/><rect x="14" y="406" width="3" height="1"/><rect x="17" y="407" width="1" height="1"/><rect x="17" y="408" width="1" height="1"/><rect x="14" y="409" width="3" height="1"/><rect x="19" y="405" width="1" height="1"/><rect x="22" y="405" width="1" height="1"/><rect x="21" y="406" width="1" height="1"/><rect x="20" y="407" width="1" height="1"/><rect x="19" y="408" width="1" height="1"/><rect x="22" y="408" width="1" height="1"/></g>
<rect x="28" y="394" width="16" height="8" rx="1.2" fill="#b8b8b8"/>
<rect x="28" y="397" width="8" height="2" fill="#858585"/>
<g fill="#9c9c9c" shape-rendering="crispEdges"><rect x="29" y="404" width="4" height="1"/><rect x="29" y="405" width="1" height="1"/><rect x="29" y="406" width="3" height="1"/><rect x="32" y="407" width="1" height="1"/><rect x="32" y="408" width="1" height="1"/><rect x="29" y="409" width="3" height="1"/><rect x="35" y="404" width="2" height="1"/><rect x="34" y="405" width="1" height="1"/><rect x="37" y="405" width="1" height="1"/><rect x="34" y="406" width="1" height="1"/><rect x="37" y="406" width="1" height="1"/><rect x="34" y="407" width="1" height="1"/><rect x="37" y="407" width="1" height="1"/><rect x="34" y="408" width="1" height="1"/><rect x="37" y="408" width="1" height="1"/><rect x="35" y="409" width="2" height="1"/><rect x="39" y="405" width="1" height="1"/><rect x="42" y="405" width="1" height="1"/><rect x="41" y="406" width="1" height="1"/><rect x="40" y="407" width="1" height="1"/><rect x="39" y="408" width="1" height="1"/><rect x="42" y="408" width="1" height="1"/></g>
<rect x="48" y="394" width="16" height="8" rx="1.2" fill="#b8b8b8"/>
<rect x="48" y="397" width="12" height="2" fill="#858585"/>
<g fill="#9c9c9c" shape-rendering="crispEdges"><rect x="49" y="404" width="4" height="1"/><rect x="52" y="405" width="1" height="1"/><rect x="51" y="406" width="1" height="1"/><rect x="51" y="407" width="1" height="1"/><rect x="50" y="408" width="1" height="1"/><rect x="50" y="409" width="1" height="1"/><rect x="54" y="404" width="4" height="1"/><rect x="54" y="405" width="1" height="1"/><rect x="54" y="406" width="3" height="1"/><rect x="57" y="407" width="1" height="1"/><rect x="57" y="408" width="1" height="1"/><rect x="54" y="409" width="3" height="1"/><rect x="59" y="405" width="1" height="1"/><rect x="62" y="405" width="1" height="1"/><rect x="61" y="406" width="1" height="1"/><rect x="60" y="407" width="1" height="1"/><rect x="59" y="408" width="1" height="1"/><rect x="62" y="408" width="1" height="1"/></g>
<rect x="68" y="394" width="16" height="8" rx="1.2" fill="#b8b8b8"/>
<rect x="68" y="397" width="16" height="2" fill="#858585"/>
<g fill="#9c9c9c" shape-rendering="crispEdges"><rect x="68" y="404" width="1" height="1"/><rect x="68" y="405" width="1" height="1"/><rect x="68" y="406" width="1" height="1"/><rect x="68" y="407" width="1" height="1"/><rect x="68" y="408" width="1" height="1"/><rect x="68" y="409" width="1" height="1"/><rect x="71" y="404" width="2" height="1"/><rect x="70" y="405" width="1" height="1"/><rect x="73" y="405" width="1" height="1"/><rect x="70" y="406" width="1" height="1"/><rect x="73" y="406" width="1" height="1"/><rect x="70" y="407" width="1" height="1"/><rect x="73" y="407" width="1" height="1"/><rect x="70" y="408" width="1" height="1"/><rect x="73" y="408" width="1" height="1"/><rect x="71" y="409" width="2" height="1"/><rect x="76" y="404" width="2" height="1"/><rect x="75" y="405" width="1" height="1"/><rect x="78" y="405" width="1" height="1"/><rect x="75" y="406" width="1" height="1"/><rect x="78" y="406" width="1" height="1"/><rect x="75" y="407" width="1" height="1"/><rect x="78" y="407" width="1" height="1"/><rect x="75" y="408" width="1" height="1"/><rect x="78" y="408" width="1" height="1"/><rect x="76" y="409" width="2" height="1"/><rect x="80" y="405" width="1" height="1"/><rect x="83" y="405" width="1" height="1"/><rect x="82" y="406" width="1" height="1"/><rect x="81" y="407" width="1" height="1"/><rect x="80" y="408" width="1" height="1"/><rect x="83" y="408" width="1" height="1"/></g>
<path d="M89.5,398 l2.5,-2.5 h6.5 v5.5 M98.5,405.5 v3 h-9 v-10.5" fill="none" stroke="#5a5a5a" stroke-width="1"/>
<rect x="90" y="396" width="2.6" height="2.6" fill="#9a9a9a"/>
<path d="M93,407.6 l0.9,-3.4 l6,-6 l2.6,2.6 l-6,6 z" fill="#4079bb"/>
<circle cx="96.4" cy="403.2" r="0.75" fill="#fff"/><circle cx="94.6" cy="405.4" r="0.7" fill="#fff"/>
<rect x="8" y="419" width="16" height="8" rx="1.2" fill="#b8b8b8"/>
<rect x="8" y="422" width="4" height="2" fill="#858585"/>
<g fill="#9c9c9c" shape-rendering="crispEdges"><rect x="10" y="429" width="2" height="1"/><rect x="9" y="430" width="1" height="1"/><rect x="12" y="430" width="1" height="1"/><rect x="11" y="431" width="1" height="1"/><rect x="10" y="432" width="1" height="1"/><rect x="9" y="433" width="1" height="1"/><rect x="9" y="434" width="4" height="1"/><rect x="14" y="429" width="4" height="1"/><rect x="14" y="430" width="1" height="1"/><rect x="14" y="431" width="3" height="1"/><rect x="17" y="432" width="1" height="1"/><rect x="17" y="433" width="1" height="1"/><rect x="14" y="434" width="3" height="1"/><rect x="19" y="430" width="1" height="1"/><rect x="22" y="430" width="1" height="1"/><rect x="21" y="431" width="1" height="1"/><rect x="20" y="432" width="1" height="1"/><rect x="19" y="433" width="1" height="1"/><rect x="22" y="433" width="1" height="1"/></g>
<rect x="28" y="419" width="16" height="8" rx="1.2" fill="#b8b8b8"/>
<rect x="28" y="422" width="8" height="2" fill="#858585"/>
<g fill="#9c9c9c" shape-rendering="crispEdges"><rect x="29" y="429" width="4" height="1"/><rect x="29" y="430" width="1" height="1"/><rect x="29" y="431" width="3" height="1"/><rect x="32" y="432" width="1" height="1"/><rect x="32" y="433" width="1" height="1"/><rect x="29" y="434" width="3" height="1"/><rect x="35" y="429" width="2" height="1"/><rect x="34" y="430" width="1" height="1"/><rect x="37" y="430" width="1" height="1"/><rect x="34" y="431" width="1" height="1"/><rect x="37" y="431" width="1" height="1"/><rect x="34" y="432" width="1" height="1"/><rect x="37" y="432" width="1" height="1"/><rect x="34" y="433" width="1" height="1"/><rect x="37" y="433" width="1" height="1"/><rect x="35" y="434" width="2" height="1"/><rect x="39" y="430" width="1" height="1"/><rect x="42" y="430" width="1" height="1"/><rect x="41" y="431" width="1" height="1"/><rect x="40" y="432" width="1" height="1"/><rect x="39" y="433" width="1" height="1"/><rect x="42" y="433" width="1" height="1"/></g>
<rect x="48" y="419" width="16" height="8" rx="1.2" fill="#b8b8b8"/>
<rect x="48" y="422" width="12" height="2" fill="#858585"/>
<g fill="#9c9c9c" shape-rendering="crispEdges"><rect x="49" y="429" width="4" height="1"/><rect x="52" y="430" width="1" height="1"/><rect x="51" y="431" width="1" height="1"/><rect x="51" y="432" width="1" height="1"/><rect x="50" y="433" width="1" height="1"/><rect x="50" y="434" width="1" height="1"/><rect x="54" y="429" width="4" height="1"/><rect x="54" y="430" width="1" height="1"/><rect x="54" y="431" width="3" height="1"/><rect x="57" y="432" width="1" height="1"/><rect x="57" y="433" width="1" height="1"/><rect x="54" y="434" width="3" height="1"/><rect x="59" y="430" width="1" height="1"/><rect x="62" y="430" width="1" height="1"/><rect x="61" y="431" width="1" height="1"/><rect x="60" y="432" width="1" height="1"/><rect x="59" y="433" width="1" height="1"/><rect x="62" y="433" width="1" height="1"/></g>
<rect x="68" y="419" width="16" height="8" rx="1.2" fill="#b8b8b8"/>
<rect x="68" y="422" width="16" height="2" fill="#858585"/>
<g fill="#9c9c9c" shape-rendering="crispEdges"><rect x="68" y="429" width="1" height="1"/><rect x="68" y="430" width="1" height="1"/><rect x="68" y="431" width="1" height="1"/><rect x="68" y="432" width="1" height="1"/><rect x="68" y="433" width="1" height="1"/><rect x="68" y="434" width="1" height="1"/><rect x="71" y="429" width="2" height="1"/><rect x="70" y="430" width="1" height="1"/><rect x="73" y="430" width="1" height="1"/><rect x="70" y="431" width="1" height="1"/><rect x="73" y="431" width="1" height="1"/><rect x="70" y="432" width="1" height="1"/><rect x="73" y="432" width="1" height="1"/><rect x="70" y="433" width="1" height="1"/><rect x="73" y="433" width="1" height="1"/><rect x="71" y="434" width="2" height="1"/><rect x="76" y="429" width="2" height="1"/><rect x="75" y="430" width="1" height="1"/><rect x="78" y="430" width="1" height="1"/><rect x="75" y="431" width="1" height="1"/><rect x="78" y="431" width="1" height="1"/><rect x="75" y="432" width="1" height="1"/><rect x="78" y="432" width="1" height="1"/><rect x="75" y="433" width="1" height="1"/><rect x="78" y="433" width="1" height="1"/><rect x="76" y="434" width="2" height="1"/><rect x="80" y="430" width="1" height="1"/><rect x="83" y="430" width="1" height="1"/><rect x="82" y="431" width="1" height="1"/><rect x="81" y="432" width="1" height="1"/><rect x="80" y="433" width="1" height="1"/><rect x="83" y="433" width="1" height="1"/></g>
<path d="M89.5,423 l2.5,-2.5 h6.5 v5.5 M98.5,430.5 v3 h-9 v-10.5" fill="none" stroke="#5a5a5a" stroke-width="1"/>
<rect x="90" y="421" width="2.6" height="2.6" fill="#9a9a9a"/>
<path d="M93,432.6 l0.9,-3.4 l6,-6 l2.6,2.6 l-6,6 z" fill="#4079bb"/>
<circle cx="96.4" cy="428.2" r="0.75" fill="#fff"/><circle cx="94.6" cy="430.4" r="0.7" fill="#fff"/>
<rect x="8" y="444" width="16" height="8" rx="1.2" fill="#4a7ebb"/>
<rect x="8" y="447" width="4" height="2" fill="#1a1a1a"/>
<g fill="#3a3a3a" shape-rendering="crispEdges"><rect x="10" y="454" width="2" height="1"/><rect x="9" y="455" width="1" height="1"/><rect x="12" y="455" width="1" height="1"/><rect x="11" y="456" width="1" height="1"/><rect x="10" y="457" width="1" height="1"/><rect x="9" y="458" width="1" height="1"/><rect x="9" y="459" width="4" height="1"/><rect x="14" y="454" width="4" height="1"/><rect x="14" y="455" width="1" height="1"/><rect x="14" y="456" width="3" height="1"/><rect x="17" y="457" width="1" height="1"/><rect x="17" y="458" width="1" height="1"/><rect x="14" y="459" width="3" height="1"/><rect x="19" y="455" width="1" height="1"/><rect x="22" y="455" width="1" height="1"/><rect x="21" y="456" width="1" height="1"/><rect x="20" y="457" width="1" height="1"/><rect x="19" y="458" width="1" height="1"/><rect x="22" y="458" width="1" height="1"/></g>
<rect x="28" y="444" width="16" height="8" rx="1.2" fill="#4a7ebb"/>
<rect x="28" y="447" width="8" height="2" fill="#1a1a1a"/>
<g fill="#3a3a3a" shape-rendering="crispEdges"><rect x="29" y="454" width="4" height="1"/><rect x="29" y="455" width="1" height="1"/><rect x="29" y="456" width="3" height="1"/><rect x="32" y="457" width="1" height="1"/><rect x="32" y="458" width="1" height="1"/><rect x="29" y="459" width="3" height="1"/><rect x="35" y="454" width="2" height="1"/><rect x="34" y="455" width="1" height="1"/><rect x="37" y="455" width="1" height="1"/><rect x="34" y="456" width="1" height="1"/><rect x="37" y="456" width="1" height="1"/><rect x="34" y="457" width="1" height="1"/><rect x="37" y="457" width="1" height="1"/><rect x="34" y="458" width="1" height="1"/><rect x="37" y="458" width="1" height="1"/><rect x="35" y="459" width="2" height="1"/><rect x="39" y="455" width="1" height="1"/><rect x="42" y="455" width="1" height="1"/><rect x="41" y="456" width="1" height="1"/><rect x="40" y="457" width="1" height="1"/><rect x="39" y="458" width="1" height="1"/><rect x="42" y="458" width="1" height="1"/></g>
<rect x="48" y="444" width="16" height="8" rx="1.2" fill="#4a7ebb"/>
<rect x="48" y="447" width="12" height="2" fill="#1a1a1a"/>
<g fill="#3a3a3a" shape-rendering="crispEdges"><rect x="49" y="454" width="4" height="1"/><rect x="52" y="455" width="1" height="1"/><rect x="51" y="456" width="1" height="1"/><rect x="51" y="457" width="1" height="1"/><rect x="50" y="458" width="1" height="1"/><rect x="50" y="459" width="1" height="1"/><rect x="54" y="454" width="4" height="1"/><rect x="54" y="455" width="1" height="1"/><rect x="54" y="456" width="3" height="1"/><rect x="57" y="457" width="1" height="1"/><rect x="57" y="458" width="1" height="1"/><rect x="54" y="459" width="3" height="1"/><rect x="59" y="455" width="1" height="1"/><rect x="62" y="455" width="1" height="1"/><rect x="61" y="456" width="1" height="1"/><rect x="60" y="457" width="1" height="1"/><rect x="59" y="458" width="1" height="1"/><rect x="62" y="458" width="1" height="1"/></g>
<rect x="68" y="444" width="16" height="8" rx="1.2" fill="#4a7ebb"/>
<rect x="68" y="447" width="16" height="2" fill="#1a1a1a"/>
<g fill="#3a3a3a" shape-rendering="crispEdges"><rect x="68" y="454" width="1" height="1"/><rect x="68" y="455" width="1" height="1"/><rect x="68" y="456" width="1" height="1"/><rect x="68" y="457" width="1" height="1"/><rect x="68" y="458" width="1" height="1"/><rect x="68" y="459" width="1" height="1"/><rect x="71" y="454" width="2" height="1"/><rect x="70" y="455" width="1" height="1"/><rect x="73" y="455" width="1" height="1"/><rect x="70" y="456" width="1" height="1"/><rect x="73" y="456" width="1" height="1"/><rect x="70" y="457" width="1" height="1"/><rect x="73" y="457" width="1" height="1"/><rect x="70" y="458" width="1" height="1"/><rect x="73" y="458" width="1" height="1"/><rect x="71" y="459" width="2" height="1"/><rect x="76" y="454" width="2" height="1"/><rect x="75" y="455" width="1" height="1"/><rect x="78" y="455" width="1" height="1"/><rect x="75" y="456" width="1" height="1"/><rect x="78" y="456" width="1" height="1"/><rect x="75" y="457" width="1" height="1"/><rect x="78" y="457" width="1" height="1"/><rect x="75" y="458" width="1" height="1"/><rect x="78" y="458" width="1" height="1"/><rect x="76" y="459" width="2" height="1"/><rect x="80" y="455" width="1" height="1"/><rect x="83" y="455" width="1" height="1"/><rect x="82" y="456" width="1" height="1"/><rect x="81" y="457" width="1" height="1"/><rect x="80" y="458" width="1" height="1"/><rect x="83" y="458" width="1" height="1"/></g>
<path d="M89.5,448 l2.5,-2.5 h6.5 v5.5 M98.5,455.5 v3 h-9 v-10.5" fill="none" stroke="#5a5a5a" stroke-width="1"/>
<rect x="90" y="446" width="2.6" height="2.6" fill="#9a9a9a"/>
<path d="M93,457.6 l0.9,-3.4 l6,-6 l2.6,2.6 l-6,6 z" fill="#4079bb"/>
<circle cx="96.4" cy="453.2" r="0.75" fill="#fff"/><circle cx="94.6" cy="455.4" r="0.7" fill="#fff"/>
<rect x="8" y="469" width="16" height="8" rx="1.2" fill="#4a7ebb"/>
<rect x="8" y="472" width="4" height="2" fill="#1a1a1a"/>
<g fill="#3a3a3a" shape-rendering="crispEdges"><rect x="10" y="479" width="2" height="1"/><rect x="9" y="480" width="1" height="1"/><rect x="12" y="480" width="1" height="1"/><rect x="11" y="481" width="1" height="1"/><rect x="10" y="482" width="1" height="1"/><rect x="9" y="483" width="1" height="1"/><rect x="9" y="484" width="4" height="1"/><rect x="14" y="479" width="4" height="1"/><rect x="14" y="480" width="1" height="1"/><rect x="14" y="481" width="3" height="1"/><rect x="17" y="482" width="1" height="1"/><rect x="17" y="483" width="1" height="1"/><rect x="14" y="484" width="3" height="1"/><rect x="19" y="480" width="1" height="1"/><rect x="22" y="480" width="1" height="1"/><rect x="21" y="481" width="1" height="1"/><rect x="20" y="482" width="1" height="1"/><rect x="19" y="483" width="1" height="1"/><rect x="22" y="483" width="1" height="1"/></g>
<rect x="28" y="469" width="16" height="8" rx="1.2" fill="#4a7ebb"/>
<rect x="28" y="472" width="8" height="2" fill="#1a1a1a"/>
<g fill="#3a3a3a" shape-rendering="crispEdges"><rect x="29" y="479" width="4" height="1"/><rect x="29" y="480" width="1" height="1"/><rect x="29" y="481" width="3" height="1"/><rect x="32" y="482" width="1" height="1"/><rect x="32" y="483" width="1" height="1"/><rect x="29" y="484" width="3" height="1"/><rect x="35" y="479" width="2" height="1"/><rect x="34" y="480" width="1" height="1"/><rect x="37" y="480" width="1" height="1"/><rect x="34" y="481" width="1" height="1"/><rect x="37" y="481" width="1" height="1"/><rect x="34" y="482" width="1" height="1"/><rect x="37" y="482" width="1" height="1"/><rect x="34" y="483" width="1" height="1"/><rect x="37" y="483" width="1" height="1"/><rect x="35" y="484" width="2" height="1"/><rect x="39" y="480" width="1" height="1"/><rect x="42" y="480" width="1" height="1"/><rect x="41" y="481" width="1" height="1"/><rect x="40" y="482" width="1" height="1"/><rect x="39" y="483" width="1" height="1"/><rect x="42" y="483" width="1" height="1"/></g>
<rect x="48" y="469" width="16" height="8" rx="1.2" fill="#4a7ebb"/>
<rect x="48" y="472" width="12" height="2" fill="#1a1a1a"/>
<g fill="#3a3a3a" shape-rendering="crispEdges"><rect x="49" y="479" width="4" height="1"/><rect x="52" y="480" width="1" height="1"/><rect x="51" y="481" width="1" height="1"/><rect x="51" y="482" width="1" height="1"/><rect x="50" y="483" width="1" height="1"/><rect x="50" y="484" width="1" height="1"/><rect x="54" y="479" width="4" height="1"/><rect x="54" y="480" width="1" height="1"/><rect x="54" y="481" width="3" height="1"/><rect x="57" y="482" width="1" height="1"/><rect x="57" y="483" width="1" height="1"/><rect x="54" y="484" width="3" height="1"/><rect x="59" y="480" width="1" height="1"/><rect x="62" y="480" width="1" height="1"/><rect x="61" y="481" width="1" height="1"/><rect x="60" y="482" width="1" height="1"/><rect x="59" y="483" width="1" height="1"/><rect x="62" y="483" width="1" height="1"/></g>
<rect x="68" y="469" width="16" height="8" rx="1.2" fill="#4a7ebb"/>
<rect x="68" y="472" width="16" height="2" fill="#1a1a1a"/>
<g fill="#3a3a3a" shape-rendering="crispEdges"><rect x="68" y="479" width="1" height="1"/><rect x="68" y="480" width="1" height="1"/><rect x="68" y="481" width="1" height="1"/><rect x="68" y="482" width="1" height="1"/><rect x="68" y="483" width="1" height="1"/><rect x="68" y="484" width="1" height="1"/><rect x="71" y="479" width="2" height="1"/><rect x="70" y="480" width="1" height="1"/><rect x="73" y="480" width="1" height="1"/><rect x="70" y="481" width="1" height="1"/><rect x="73" y="481" width="1" height="1"/><rect x="70" y="482" width="1" height="1"/><rect x="73" y="482" width="1" height="1"/><rect x="70" y="483" width="1" height="1"/><rect x="73" y="483" width="1" height="1"/><rect x="71" y="484" width="2" height="1"/><rect x="76" y="479" width="2" height="1"/><rect x="75" y="480" width="1" height="1"/><rect x="78" y="480" width="1" height="1"/><rect x="75" y="481" width="1" height="1"/><rect x="78" y="481" width="1" height="1"/><rect x="75" y="482" width="1" height="1"/><rect x="78" y="482" width="1" height="1"/><rect x="75" y="483" width="1" height="1"/><rect x="78" y="483" width="1" height="1"/><rect x="76" y="484" width="2" height="1"/><rect x="80" y="480" width="1" height="1"/><rect x="83" y="480" width="1" height="1"/><rect x="82" y="481" width="1" height="1"/><rect x="81" y="482" width="1" height="1"/><rect x="80" y="483" width="1" height="1"/><rect x="83" y="483" width="1" height="1"/></g>
<path d="M89.5,473 l2.5,-2.5 h6.5 v5.5 M98.5,480.5 v3 h-9 v-10.5" fill="none" stroke="#5a5a5a" stroke-width="1"/>
<rect x="90" y="471" width="2.6" height="2.6" fill="#9a9a9a"/>
<path d="M93,482.6 l0.9,-3.4 l6,-6 l2.6,2.6 l-6,6 z" fill="#4079bb"/>
<circle cx="96.4" cy="478.2" r="0.75" fill="#fff"/><circle cx="94.6" cy="480.4" r="0.7" fill="#fff"/>
<path d="M109.5,426.5 l4,4 l8,-9" fill="none" stroke="#5ea68a" stroke-width="2.8"/>
<g transform="translate(0,0)" fill="#4a7fbc"><circle cx="65" cy="93.9" r="7"/><path d="M53,110.5 C53,104.5 55.5,102 59.8,102 L65,108.2 L70.2,102 C74.5,102 77.3,104.5 77.3,110.5 L77.3,113.2 C77.3,115 74,115.6 65.2,115.6 C56,115.6 53,115 53,113.2 Z"/></g>
<g transform="translate(637.8,-0.3)" fill="#6fa48f"><circle cx="65" cy="93.9" r="7"/><path d="M53,110.5 C53,104.5 55.5,102 59.8,102 L65,108.2 L70.2,102 C74.5,102 77.3,104.5 77.3,110.5 L77.3,113.2 C77.3,115 74,115.6 65.2,115.6 C56,115.6 53,115 53,113.2 Z"/></g>
<path d="M457.5,98.5 V94.5 A6.5,6.5 0 0 1 470.5,94.5 V98.5" fill="none" stroke="#e9c07a" stroke-width="3"/><rect x="453" y="98" width="22" height="17" rx="2" fill="#e9c07a"/><circle cx="463.8" cy="103.4" r="2.3" fill="#fff"/><rect x="462.8" y="103.5" width="2" height="8" fill="#fff"/>
<g transform="translate(120,86)"><path d="M0,13.8 V7.4 H1 V1.1 H3.1 V7.3 L4.6,6.1 L5.9,7.3 L8.9,6.1 L10.1,7.3 L13.1,5.9 L13.8,6.2 V13.8 Z" fill="#4a7fbc"/><path d="M1.6,1.2 L2.3,0.4 H5.2" fill="none" stroke="#4a7fbc" stroke-width="0.9"/><rect x="2.4" y="8.1" width="1.9" height="2.1" fill="#fff"/><rect x="6.8" y="8.1" width="1.9" height="2.1" fill="#fff"/><rect x="10.9" y="8.1" width="1.9" height="2.1" fill="#fff"/></g>
<g transform="translate(120,115)" fill="none"><path d="M3.5,5 V13.5 H7 M3.5,7.5 H7" stroke="#666" stroke-width="1"/><rect x="0.5" y="0.5" width="6.5" height="4" rx="0.8" stroke="#4a7fbc"/><rect x="7" y="5.5" width="6.5" height="3.8" rx="0.8" stroke="#4a7fbc"/><rect x="7" y="11.5" width="6.5" height="3.8" rx="0.8" stroke="#4a7fbc"/></g>
<g transform="translate(119,145.8)"><path d="M0.7,12.3 V2.4 H8.6 L9.8,0.7 H13.6 V5.5" fill="none" stroke="#e9c07a" stroke-width="1.3"/><path d="M3.6,5.2 H16 L13.6,12.8 H0.2 Z" fill="#e9c07a"/></g>
<g transform="translate(243.6,86)"><path d="M0,13.8 V7.4 H1 V1.1 H3.1 V7.3 L4.6,6.1 L5.9,7.3 L8.9,6.1 L10.1,7.3 L13.1,5.9 L13.8,6.2 V13.8 Z" fill="#4a7fbc"/><path d="M1.6,1.2 L2.3,0.4 H5.2" fill="none" stroke="#4a7fbc" stroke-width="0.9"/><rect x="2.4" y="8.1" width="1.9" height="2.1" fill="#fff"/><rect x="6.8" y="8.1" width="1.9" height="2.1" fill="#fff"/><rect x="10.9" y="8.1" width="1.9" height="2.1" fill="#fff"/></g>
<path d="M252.70,96.60 L254.90,99.00 L258.40,93.90" fill="none" stroke="#fff" stroke-width="3.6" stroke-linecap="round"/><path d="M252.70,96.60 L254.90,99.00 L258.40,93.90" fill="none" stroke="#64a48c" stroke-width="1.6"/>
<circle cx="248" cy="118" r="3" fill="#4a7fbc"/><path d="M243.30,127.50 V125.21 Q243.30,122.20 246.31,122.20 H249.69 Q252.70,122.20 252.70,125.21 V127.50 Q252.70,128.10 251.90,128.10 H244.10 Q243.30,128.10 243.30,127.50 Z" fill="#4a7fbc"/><path d="M246.60,122.19 L248.00,124.00 L249.40,122.19 Z" fill="#fff"/>
<path d="M251.90,126.50 L254.20,128.90 L258.40,123.60" fill="none" stroke="#fff" stroke-width="3.6" stroke-linecap="round"/><path d="M251.90,126.50 L254.20,128.90 L258.40,123.60" fill="none" stroke="#64a48c" stroke-width="1.6"/>
<g transform="translate(243.2,146.2)"><path d="M0,13 V2.2 H8 L9.2,0.3 H14.6 V13 Z" fill="#e9c07a"/><path d="M8.6,1.9 H14" stroke="#fbeedd" stroke-width="0.9"/></g>
<path d="M251.90,156.40 L254.20,158.80 L258.40,153.60" fill="none" stroke="#fff" stroke-width="3.6" stroke-linecap="round"/><path d="M251.90,156.40 L254.20,158.80 L258.40,153.60" fill="none" stroke="#64a48c" stroke-width="1.6"/>
<g transform="translate(515,85)"><rect x="0.5" y="0.5" width="13" height="13" fill="#fff" stroke="#555"/><rect x="0" y="0" width="14" height="3" fill="#3d7cc9"/><path d="M4.3,3 V13 M10,3 V13" stroke="#b9d0ea" stroke-width="0.8"/><path d="M2.5,6.8 V5.2 H11.5 V6.8" fill="none" stroke="#444" stroke-width="1"/><rect x="2.2" y="7.5" width="5.8" height="1.6" fill="#3d7cc9"/><rect x="6.3" y="10.2" width="5.8" height="1.6" fill="#3d7cc9"/></g>
<g transform="translate(515,115)" fill="none"><path d="M2.4,8.8 V0.5 H11.8" stroke="#555"/><path d="M4.4,7.9 V2.7 H13.5 V7.9" stroke="#555"/><path d="M6.1,4.4 H10.6 M9.5,4.4 V5.4 M7,7.5 H11.8" stroke="#3d7cc9" stroke-width="1.1"/><path d="M0.6,4.6 V15.6" stroke="#e9c07a" stroke-width="1.2"/><path d="M4,9.2 H16.2 L14.6,15.9 H0.3 Z" fill="#e9c07a"/></g>
<g transform="translate(515,145)" fill="none"><path d="M0.5,8.9 V0.4 H10" stroke="#555"/><path d="M2.5,8.6 V2.4 H11.7 V7.8" stroke="#555"/><path d="M4.5,4.4 H9.6 M7.5,4.4 V5.4 M5.2,7.4 H10.1" stroke="#3d7cc9" stroke-width="1.1"/><rect x="1.9" y="9.9" width="7.6" height="5.1" rx="2.5" stroke="#fff" stroke-width="3.2"/><rect x="1.9" y="9.9" width="7.6" height="5.1" rx="2.5" stroke="#3d7cc9" stroke-width="1.8"/><rect x="7.1" y="9.9" width="7.6" height="5.1" rx="2.5" stroke="#3d7cc9" stroke-width="1.8"/></g>
<circle cx="764.1" cy="88.8" r="2.8" fill="#666"/><path d="M759.10,97.40 V96.00 Q759.10,92.80 762.30,92.80 H765.90 Q769.10,92.80 769.10,96.00 V97.40 Q769.10,98.00 768.30,98.00 H759.90 Q759.10,98.00 759.10,97.40 Z" fill="#666"/><path d="M762.70,92.79 L764.10,94.60 L765.50,92.79 Z" fill="#fff"/>
<circle cx="768" cy="123.9" r="2.4" fill="#64a48c"/><path d="M764.40,131.10 V129.80 Q764.40,127.50 766.70,127.50 H769.30 Q771.60,127.50 771.60,129.80 V131.10 Q771.60,131.70 770.80,131.70 H765.20 Q764.40,131.70 764.40,131.10 Z" fill="#64a48c"/><path d="M766.60,127.49 L768.00,129.30 L769.40,127.49 Z" fill="#fff"/><rect x="762.5" y="124" width="2.2" height="9" fill="#fff"/><circle cx="760.1" cy="126.8" r="2.4" fill="#64a48c"/><path d="M756.30,134.10 V132.83 Q756.30,130.40 758.73,130.40 H761.47 Q763.90,130.40 763.90,132.83 V134.10 Q763.90,134.70 763.10,134.70 H757.10 Q756.30,134.70 756.30,134.10 Z" fill="#64a48c"/><path d="M758.70,130.39 L760.10,132.20 L761.50,130.39 Z" fill="#fff"/>
<g transform="translate(846,85)"><rect x="0" y="0" width="16" height="15" fill="#8c8c8c"/><rect x="0" y="0" width="16" height="3" fill="#5e5e5e"/><rect x="1" y="3.5" width="2" height="2" fill="#fff"/><rect x="4" y="3.5" width="2" height="2" fill="#fff"/><rect x="7" y="3.5" width="2" height="2" fill="#fff"/><rect x="10" y="3.5" width="2" height="2" fill="#fff"/><rect x="13" y="3.5" width="2" height="2" fill="#fff"/><rect x="1" y="6.4" width="2" height="2" fill="#fff"/><rect x="4" y="6.4" width="2" height="2" fill="#fff"/><rect x="7" y="6.4" width="2" height="2" fill="#fff"/><rect x="10" y="6.4" width="2" height="2" fill="#fff"/><rect x="13" y="6.4" width="2" height="2" fill="#fff"/><rect x="1" y="9.3" width="2" height="2" fill="#fff"/><rect x="4" y="9.3" width="2" height="2" fill="#fff"/><rect x="7" y="9.3" width="2" height="2" fill="#fff"/><rect x="10" y="9.3" width="2" height="2" fill="#fff"/><rect x="13" y="9.3" width="2" height="2" fill="#fff"/><rect x="1" y="12.2" width="2" height="2" fill="#fff"/><rect x="4" y="12.2" width="2" height="2" fill="#fff"/><rect x="7" y="12.2" width="2" height="2" fill="#fff"/><rect x="10" y="12.2" width="2" height="2" fill="#fff"/><rect x="13" y="12.2" width="2" height="2" fill="#fff"/><rect x="8.3" y="4.3" width="5.4" height="5.4" fill="#fff"/><rect x="9.3" y="5.3" width="3.4" height="3.4" fill="none" stroke="#e0761c" stroke-width="1.25"/></g>
<rect x="847.5" y="116.5" width="12" height="12" fill="#fff" stroke="#c0c0c0"/><rect x="847" y="116" width="13" height="2" fill="#a9c4e0"/><path d="M850.5,118 V128 M853.5,118 V128 M856.5,118 V128" stroke="#dbe6f2" stroke-width="1"/><rect x="846" y="119" width="5.6" height="1.8" rx="0.8" fill="#a9c4e0"/><rect x="849.2" y="122.1" width="5.5" height="1.8" rx="0.8" fill="#a9c4e0"/><rect x="855.2" y="125" width="5.7" height="1.8" rx="0.8" fill="#a9c4e0"/>
<path d="M856.4,149.4 V156.4 A2.9,2.9 0 0 1 850.6,156.4 V148.1 A2.5,2.5 0 0 1 855.6,148.1 V154.6 A1.2,1.2 0 0 1 853.2,154.6 V149.3" fill="none" stroke="#666" stroke-width="1.1"/>
<path d="M947.6,87.4 L948.6,98.8 Q948.8,100 950,100 H955 Q956.2,100 956.4,98.8 L957.4,87.4" fill="none" stroke="#666" stroke-width="1.1"/><rect x="948.6" y="86.5" width="7.8" height="2.7" rx="1.35" fill="none" stroke="#666" stroke-width="1"/><path d="M950.3,95.4 L952.5,92.6 L954.7,95.4 Z M950,95.6 Q952.5,97.2 955,95.6" fill="none" stroke="#64a48c" stroke-width="0.9"/>
<rect x="948.5" y="115.5" width="12" height="11" fill="#fff" stroke="#666"/><rect x="948" y="115" width="13" height="2.8" fill="#5e5e5e"/><path d="M949,120.5 H960 M949,123.5 H960 M951.5,118 V126 M954.5,118 V126 M957.5,118 V126" stroke="#c4c4c4" stroke-width="0.8" stroke-dasharray="1 1"/><rect x="954.8" y="120.6" width="2.8" height="2.8" fill="#fff" stroke="#e0761c" stroke-width="1.3"/><circle cx="948.9" cy="123.1" r="3.5" fill="#fff"/><circle cx="948.9" cy="123.1" r="2.8" fill="#64a48c"/><path d="M945,131 V128.2 Q945,126.1 947.2,126.1 H950.6 Q952.8,126.1 952.8,128.2 V131 Z" fill="#64a48c" stroke="#fff" stroke-width="0.7"/><path d="M947.7,126.1 L948.9,127.5 L950.1,126.1 Z" fill="#fff"/>
<g fill="#555"><circle cx="950.40" cy="155.90" r="3.5"/><rect x="949.25" y="150.60" width="2.3" height="5.30" transform="rotate(90 950.40 155.90)"/><rect x="949.25" y="150.60" width="2.3" height="5.30" transform="rotate(150 950.40 155.90)"/><rect x="949.25" y="150.60" width="2.3" height="5.30" transform="rotate(210 950.40 155.90)"/><rect x="949.25" y="150.60" width="2.3" height="5.30" transform="rotate(270 950.40 155.90)"/><rect x="949.25" y="150.60" width="2.3" height="5.30" transform="rotate(330 950.40 155.90)"/><rect x="949.25" y="150.60" width="2.3" height="5.30" transform="rotate(390 950.40 155.90)"/></g><circle cx="950.40" cy="155.90" r="1.5" fill="#fff"/><g fill="#555"><circle cx="957.10" cy="148.90" r="2.6"/><rect x="956.20" y="144.95" width="1.8" height="3.95" transform="rotate(90 957.10 148.90)"/><rect x="956.20" y="144.95" width="1.8" height="3.95" transform="rotate(150 957.10 148.90)"/><rect x="956.20" y="144.95" width="1.8" height="3.95" transform="rotate(210 957.10 148.90)"/><rect x="956.20" y="144.95" width="1.8" height="3.95" transform="rotate(270 957.10 148.90)"/><rect x="956.20" y="144.95" width="1.8" height="3.95" transform="rotate(330 957.10 148.90)"/><rect x="956.20" y="144.95" width="1.8" height="3.95" transform="rotate(390 957.10 148.90)"/></g><circle cx="957.10" cy="148.90" r="1.1" fill="#fff"/>
<g fill="#555"><circle cx="1116.30" cy="96.50" r="3.5"/><rect x="1115.15" y="91.20" width="2.3" height="5.30" transform="rotate(90 1116.30 96.50)"/><rect x="1115.15" y="91.20" width="2.3" height="5.30" transform="rotate(150 1116.30 96.50)"/><rect x="1115.15" y="91.20" width="2.3" height="5.30" transform="rotate(210 1116.30 96.50)"/><rect x="1115.15" y="91.20" width="2.3" height="5.30" transform="rotate(270 1116.30 96.50)"/><rect x="1115.15" y="91.20" width="2.3" height="5.30" transform="rotate(330 1116.30 96.50)"/><rect x="1115.15" y="91.20" width="2.3" height="5.30" transform="rotate(390 1116.30 96.50)"/></g><circle cx="1116.30" cy="96.50" r="1.5" fill="#fff"/><g fill="#555"><circle cx="1123.00" cy="89.50" r="2.6"/><rect x="1122.10" y="85.55" width="1.8" height="3.95" transform="rotate(90 1123.00 89.50)"/><rect x="1122.10" y="85.55" width="1.8" height="3.95" transform="rotate(150 1123.00 89.50)"/><rect x="1122.10" y="85.55" width="1.8" height="3.95" transform="rotate(210 1123.00 89.50)"/><rect x="1122.10" y="85.55" width="1.8" height="3.95" transform="rotate(270 1123.00 89.50)"/><rect x="1122.10" y="85.55" width="1.8" height="3.95" transform="rotate(330 1123.00 89.50)"/><rect x="1122.10" y="85.55" width="1.8" height="3.95" transform="rotate(390 1123.00 89.50)"/></g><circle cx="1123.00" cy="89.50" r="1.1" fill="#fff"/>
<rect x="1111.5" y="115.5" width="12" height="11" fill="#fff" stroke="#666"/><rect x="1111" y="115" width="13" height="2.8" fill="#5e5e5e"/><path d="M1112,120.5 H1123 M1112,123.5 H1123 M1114.5,118 V126 M1117.5,118 V126 M1120.5,118 V126" stroke="#c4c4c4" stroke-width="0.8" stroke-dasharray="1 1"/><rect x="1114.6" y="120.6" width="2.8" height="2.8" fill="#fff" stroke="#e0761c" stroke-width="1.3"/><circle cx="1122.6" cy="126.3" r="5.0" fill="#fff"/><circle cx="1122.6" cy="126.3" r="4.0" fill="#fff" stroke="#4a86c8" stroke-width="1.1"/><path d="M1122.6,124.0 V126.6 H1124.8" fill="none" stroke="#333" stroke-width="1"/>
<circle cx="1119.1" cy="153.1" r="8" fill="#68a48d"/><path d="M1115.1,152.6 A4,4 0 0 1 1122.3,150.79999999999998" fill="none" stroke="#fff" stroke-width="1.9"/><path d="M1123.6999999999998,148.79999999999998 L1123.5,152.5 L1120.0,151.7 Z" fill="#fff"/><path d="M1123.1,153.6 A4,4 0 0 1 1115.8999999999999,155.4" fill="none" stroke="#fff" stroke-width="1.9"/><path d="M1114.5,157.4 L1114.6999999999998,153.7 L1118.1999999999998,154.5 Z" fill="#fff"/>
<g transform="translate(1251,86)"><path d="M0.2,2.4 H2 M0.2,5.4 H2" stroke="#555" stroke-width="1.2"/><rect x="3.7" y="1.5" width="10" height="8" fill="#fff" stroke="#555" stroke-width="1"/><rect x="10.2" y="2.8" width="2" height="2" fill="#3d7cc9"/><path d="M5.5,5.6 H9 M5.5,7.6 H7.5" stroke="#999" stroke-width="0.8"/></g><circle cx="1262.4" cy="96.6" r="5.3" fill="#fff"/><circle cx="1262.4" cy="96.6" r="4.3" fill="#fff" stroke="#4a86c8" stroke-width="1.1"/><path d="M1262.4,94.3 V96.89999999999999 H1264.6000000000001" fill="none" stroke="#333" stroke-width="1"/>
</svg>
</body></html>
